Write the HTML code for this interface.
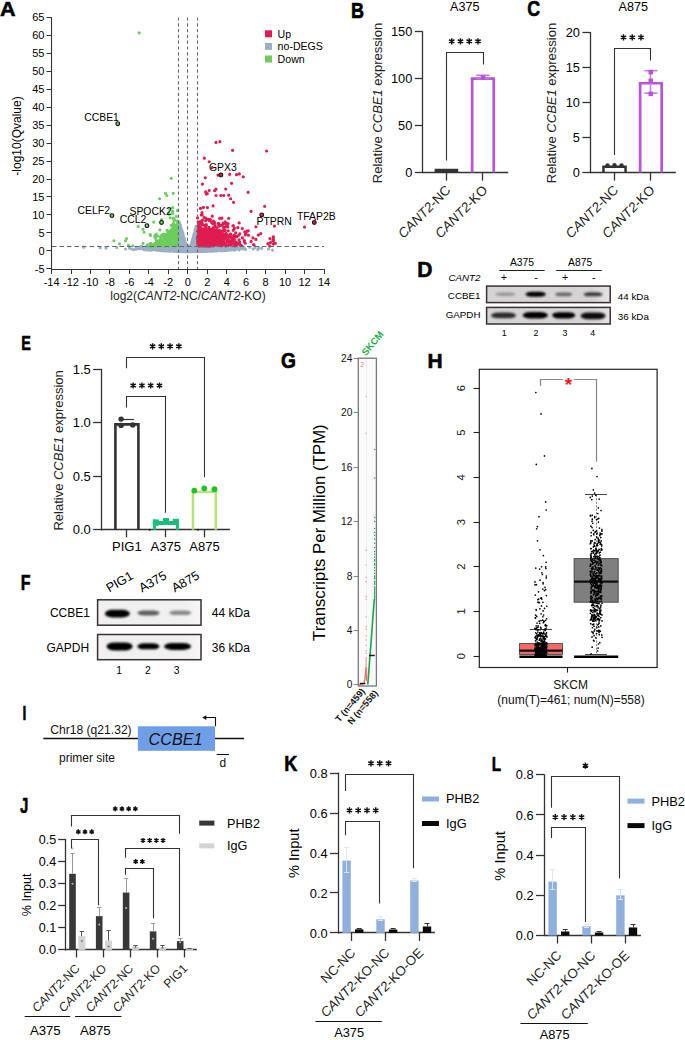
<!DOCTYPE html>
<html><head><meta charset="utf-8"><style>
html,body{margin:0;padding:0;background:#fff;}
svg{display:block;}
text{font-family:"Liberation Sans", sans-serif;}
</style></head><body>
<svg width="685" height="1040" viewBox="0 0 685 1040">
<rect width="685" height="1040" fill="#fff"/>
<line x1="51.5" y1="17.4" x2="51.5" y2="269.2" stroke="#333" stroke-width="1.1"/>
<line x1="51" y1="269.5" x2="324.4" y2="269.5" stroke="#333" stroke-width="1.1"/>
<line x1="46.5" y1="268.5" x2="51.5" y2="268.5" stroke="#333" stroke-width="1"/>
<text x="44.5" y="272.65" font-size="11" text-anchor="end">-5</text>
<line x1="46.5" y1="250.5" x2="51.5" y2="250.5" stroke="#333" stroke-width="1"/>
<text x="44.5" y="254.7" font-size="11" text-anchor="end">0</text>
<line x1="46.5" y1="232.5" x2="51.5" y2="232.5" stroke="#333" stroke-width="1"/>
<text x="44.5" y="236.75" font-size="11" text-anchor="end">5</text>
<line x1="46.5" y1="214.5" x2="51.5" y2="214.5" stroke="#333" stroke-width="1"/>
<text x="44.5" y="218.8" font-size="11" text-anchor="end">10</text>
<line x1="46.5" y1="196.5" x2="51.5" y2="196.5" stroke="#333" stroke-width="1"/>
<text x="44.5" y="200.85" font-size="11" text-anchor="end">15</text>
<line x1="46.5" y1="179.5" x2="51.5" y2="179.5" stroke="#333" stroke-width="1"/>
<text x="44.5" y="182.9" font-size="11" text-anchor="end">20</text>
<line x1="46.5" y1="161.5" x2="51.5" y2="161.5" stroke="#333" stroke-width="1"/>
<text x="44.5" y="164.95" font-size="11" text-anchor="end">25</text>
<line x1="46.5" y1="143.5" x2="51.5" y2="143.5" stroke="#333" stroke-width="1"/>
<text x="44.5" y="147" font-size="11" text-anchor="end">30</text>
<line x1="46.5" y1="125.5" x2="51.5" y2="125.5" stroke="#333" stroke-width="1"/>
<text x="44.5" y="129.05" font-size="11" text-anchor="end">35</text>
<line x1="46.5" y1="107.5" x2="51.5" y2="107.5" stroke="#333" stroke-width="1"/>
<text x="44.5" y="111.1" font-size="11" text-anchor="end">40</text>
<line x1="46.5" y1="89.5" x2="51.5" y2="89.5" stroke="#333" stroke-width="1"/>
<text x="44.5" y="93.15" font-size="11" text-anchor="end">45</text>
<line x1="46.5" y1="71.5" x2="51.5" y2="71.5" stroke="#333" stroke-width="1"/>
<text x="44.5" y="75.2" font-size="11" text-anchor="end">50</text>
<line x1="46.5" y1="53.5" x2="51.5" y2="53.5" stroke="#333" stroke-width="1"/>
<text x="44.5" y="57.25" font-size="11" text-anchor="end">55</text>
<line x1="46.5" y1="35.5" x2="51.5" y2="35.5" stroke="#333" stroke-width="1"/>
<text x="44.5" y="39.3" font-size="11" text-anchor="end">60</text>
<line x1="46.5" y1="17.5" x2="51.5" y2="17.5" stroke="#333" stroke-width="1"/>
<text x="44.5" y="21.35" font-size="11" text-anchor="end">65</text>
<line x1="51.5" y1="269.2" x2="51.5" y2="274" stroke="#333" stroke-width="1"/>
<text x="51.58" y="286" font-size="11" text-anchor="middle">-14</text>
<line x1="71.5" y1="269.2" x2="71.5" y2="274" stroke="#333" stroke-width="1"/>
<text x="71.04" y="286" font-size="11" text-anchor="middle">-12</text>
<line x1="90.5" y1="269.2" x2="90.5" y2="274" stroke="#333" stroke-width="1"/>
<text x="90.5" y="286" font-size="11" text-anchor="middle">-10</text>
<line x1="109.5" y1="269.2" x2="109.5" y2="274" stroke="#333" stroke-width="1"/>
<text x="109.96" y="286" font-size="11" text-anchor="middle">-8</text>
<line x1="129.5" y1="269.2" x2="129.5" y2="274" stroke="#333" stroke-width="1"/>
<text x="129.42" y="286" font-size="11" text-anchor="middle">-6</text>
<line x1="148.5" y1="269.2" x2="148.5" y2="274" stroke="#333" stroke-width="1"/>
<text x="148.88" y="286" font-size="11" text-anchor="middle">-4</text>
<line x1="168.5" y1="269.2" x2="168.5" y2="274" stroke="#333" stroke-width="1"/>
<text x="168.34" y="286" font-size="11" text-anchor="middle">-2</text>
<line x1="187.5" y1="269.2" x2="187.5" y2="274" stroke="#333" stroke-width="1"/>
<text x="187.8" y="286" font-size="11" text-anchor="middle">0</text>
<line x1="207.5" y1="269.2" x2="207.5" y2="274" stroke="#333" stroke-width="1"/>
<text x="207.26" y="286" font-size="11" text-anchor="middle">2</text>
<line x1="226.5" y1="269.2" x2="226.5" y2="274" stroke="#333" stroke-width="1"/>
<text x="226.72" y="286" font-size="11" text-anchor="middle">4</text>
<line x1="246.5" y1="269.2" x2="246.5" y2="274" stroke="#333" stroke-width="1"/>
<text x="246.18" y="286" font-size="11" text-anchor="middle">6</text>
<line x1="265.5" y1="269.2" x2="265.5" y2="274" stroke="#333" stroke-width="1"/>
<text x="265.64" y="286" font-size="11" text-anchor="middle">8</text>
<line x1="285.5" y1="269.2" x2="285.5" y2="274" stroke="#333" stroke-width="1"/>
<text x="285.1" y="286" font-size="11" text-anchor="middle">10</text>
<line x1="304.5" y1="269.2" x2="304.5" y2="274" stroke="#333" stroke-width="1"/>
<text x="304.56" y="286" font-size="11" text-anchor="middle">12</text>
<line x1="324.5" y1="269.2" x2="324.5" y2="274" stroke="#333" stroke-width="1"/>
<text x="324.02" y="286" font-size="11" text-anchor="middle">14</text>
<text x="20.8" y="136" font-size="12" text-anchor="middle" transform="rotate(-90 20.8 136)">-log10(Qvalue)</text>
<text x="188" y="300" font-size="12" text-anchor="middle" fill="#222">log2(<tspan font-style="italic">CANT2</tspan>-NC/<tspan font-style="italic">CANT2</tspan>-KO)</text>
<polygon points="177.58,250.8 177.58,223.52 179.53,222.08 179.92,223.38 180.31,224.68 180.7,225.99 181.09,227.31 181.48,228.63 181.86,229.97 182.25,231.31 182.64,232.66 183.03,234.03 183.42,235.41 183.81,236.8 184.2,238.21 184.59,239.64 184.98,241.08 185.37,242.55 185.76,244.05 186.15,245.59 186.54,247.18 186.92,248.86 187.31,250.8 187.31,250.8" fill="#9bb0c8"/>
<polygon points="188.97,250.8 188.97,250.8 189.36,249.91 189.75,248.82 190.14,247.64 190.52,246.41 190.91,245.12 191.3,243.8 191.69,242.44 192.08,241.05 192.47,239.64 192.86,238.2 193.25,236.74 193.64,235.26 194.03,233.76 194.42,232.25 194.81,230.71 195.19,229.17 195.58,227.6 195.97,226.03 196.07,226.03 198.02,226.03 198.02,250.8" fill="#9bb0c8"/>
<path d="M186.46 248.05h0M202.14 251.13h0M172.69 250.96h0M187.33 248.85h0M212.88 250.82h0M196.78 251.14h0M157.65 250.08h0M209.17 250.15h0M157.13 248.03h0M156.06 248.8h0M197.93 246.91h0M190.75 250.08h0M198 249.92h0M199.75 247.13h0M203.07 248.07h0M216.15 249.22h0M184.66 251.27h0M189.52 250.54h0M182.55 249.85h0M172.14 248.25h0M175.18 247.2h0M196.69 247.79h0M192.68 248.77h0M218.38 246.74h0M189.52 246.24h0M174.99 250.72h0M161.76 250.11h0M208.61 248.79h0M221.13 247.24h0M199.09 248.46h0M204.27 247.76h0M179.19 248.29h0M171.92 246.95h0M180.84 246.43h0M161.91 250.54h0M196.58 247.78h0M152.87 246.89h0M140.24 248.7h0M168.81 251h0M211.66 248.87h0M196.71 251.31h0M200.57 247.39h0M202.29 249.41h0M202.88 246.82h0M211.21 248.43h0M202.51 246.76h0M208.9 249.87h0M154.68 248.68h0M164.9 246.34h0M224.59 250h0M198.33 250.33h0M204.97 248.87h0M178.17 251.41h0M183.22 249.29h0M173.7 246.37h0M211.03 247.71h0M163.49 247.68h0M188.94 251.37h0M220.4 246.73h0M170.71 247.15h0M175.61 250.81h0M204.6 248.08h0M198.75 250.46h0M194.6 250.77h0M188.09 251.66h0M197.36 250.79h0M207.3 251.23h0M203.25 246.81h0M182.95 250.19h0M184.08 249.69h0M184.81 246.96h0M199.58 246.17h0M168.73 250.68h0M196.68 251.08h0M182.88 247.06h0M205.08 250.58h0M241.35 247.87h0M198.95 250.79h0M187.08 248.73h0M190.41 246.25h0M212.3 249.87h0M167.81 249.26h0M209.19 248.55h0M222.16 247.16h0M184.73 247.16h0M204.43 246.21h0M213.94 247.04h0M162.11 247.36h0M195.29 249.7h0M216.1 250.91h0M207.98 249.99h0M194.58 247.84h0M213.12 246.45h0M185.69 246.2h0M210.38 250.13h0M186.26 250.38h0M196.23 248.21h0M204.74 246.66h0M204.26 247.98h0M172.01 247.15h0M217.57 246.57h0M206.95 247.27h0M191.71 250.7h0M168.39 247.18h0M173.5 246.28h0M223.57 248.91h0M151.4 247.29h0M220.43 250.07h0M199.86 246.65h0M200.07 247.18h0M214.91 246.23h0M222.08 247.73h0M176.49 250.69h0M212.5 251.12h0M220.79 248.37h0M186.31 246.5h0M153.81 246.88h0M208.42 250.23h0M191.5 250.36h0M208.71 248.28h0M190.44 250.96h0M212.95 246.59h0M177.96 248.34h0M209.67 246.63h0M151.59 248.23h0M213.53 248.48h0M187.76 249.23h0M191.11 250.68h0M228.29 249.76h0M192.6 249.06h0M187.65 249.85h0M165.95 248.48h0M158.05 250.17h0M179.48 248.48h0M191.85 247.4h0M208.15 248.7h0M159.74 246.54h0M178.64 249.09h0M173.25 248.64h0M175.94 247.74h0M167.59 248.71h0M199.13 246.45h0M178.58 246.44h0M152.01 249.26h0M146.13 246.76h0M173.81 250.59h0M207.63 250.98h0M206.97 250.12h0M218.94 247.17h0M205.17 246.68h0M210.01 247.88h0M218.45 250.27h0M231.34 249.43h0M155.77 246.34h0M172.74 246.18h0M205.78 247.02h0M203.16 248.73h0M210.13 249.53h0M197.67 247.66h0M208.56 251.23h0M170.93 251.1h0M184.36 249.78h0M174.26 250.98h0M174.5 246.21h0M204.72 250.89h0M138.71 248.7h0M226.1 249.4h0M200.43 250.86h0M151.97 246.9h0M212.8 249.87h0M218.78 248.2h0M228.66 247.44h0M197.64 247.84h0M195.44 249.31h0M235.02 247.61h0M212.89 247.13h0M226.49 250.3h0M211.9 246.83h0M173.87 248.44h0M197.02 246.54h0M190.49 248.76h0M202.37 250.23h0M201.06 251.27h0M199.39 250.48h0M185.07 247.45h0M207.82 249.84h0M178.9 249.61h0M191.68 251.6h0M191.68 247.62h0M195.29 248.61h0M200.3 246.49h0M213.22 250.63h0M200.81 248.87h0M171.96 246.98h0M172.68 247.73h0M206.81 246.23h0M170.45 247.61h0M223.94 247.8h0M176.09 251.08h0M202.34 250.81h0M222.01 249.61h0M206.13 250.54h0M225.5 246.72h0M211.54 247.81h0M188.66 250.05h0M206.6 248.97h0M203.88 250.06h0M210.25 246.33h0M217.03 249.82h0M187.29 246.32h0M184.68 251.59h0M209.55 249.32h0M167.84 250.08h0M195.52 248.87h0M207.69 250.89h0M192.19 249.47h0M195.9 249.97h0M192.82 250.4h0M170.15 247.39h0M178.85 247.95h0M182.79 249.44h0M150.65 248.93h0M203.27 247.61h0M190.58 248.12h0M229.04 246.6h0M202.23 248.14h0M187.91 250.89h0M154.51 248.21h0M152.92 246.97h0M190.63 247.1h0M154.39 247.51h0M169.93 247.67h0M192.34 250.95h0M196.79 249.65h0M222.4 248.19h0M215.48 247.97h0M170.03 248.7h0M169.69 251.13h0M201.71 248.81h0M159.27 248.26h0M187.62 247.59h0M185.33 250.23h0M206.02 247.56h0M198.93 250.47h0M188.13 248.93h0M136.08 248.2h0M160.96 247.22h0M195.77 248.25h0M186.57 250.82h0M185.28 250.22h0M190.95 248.54h0M174.3 251.24h0M206.7 247.86h0M197.71 247.82h0M184.07 248.77h0M176.56 248.94h0M181.66 246.71h0M193.85 250.58h0M239.18 249.88h0M185.12 249.09h0M214.5 248.88h0M143.14 248.88h0M204 250.34h0M239.43 247.72h0M207.35 246.38h0M211.05 250.56h0M202.1 246.74h0M169.66 247.62h0M196.78 248.96h0M235.03 250.07h0M215.46 248.85h0M192.23 250.02h0M203.59 249.79h0M206.2 246.97h0M225.75 246.86h0M192.06 251.03h0M220.59 246.6h0M177.29 249.88h0M177.51 246.14h0M206.38 248.3h0M177.85 249.97h0M208.27 251.08h0M222.81 249.44h0M214.81 246.45h0M191.76 248.85h0M207.75 250.36h0M155.93 246.64h0M228.2 246.96h0M160.94 246.41h0M158.57 248.18h0M190.46 247.62h0M185.3 249.14h0M192.18 250.1h0M162.31 250.61h0M201.25 248.99h0M186.96 249.75h0M181.79 246.26h0M223.69 249.53h0M182.07 248.53h0M177.33 249.33h0M197.72 250.48h0M202.23 246.64h0M177.29 246.63h0M191.96 246.15h0M181.04 250.48h0M195.16 251.16h0M186.81 250.32h0M199.17 250.18h0M153.02 247.2h0M173.61 249.16h0M170.35 249.27h0M204.52 249.65h0M206.93 246.3h0M197.95 250.92h0M162.9 246.78h0M191.08 250.49h0M189.66 249.46h0M207 249.04h0M229.75 246.68h0M180.36 251.38h0M223.16 246.61h0M198.16 249.02h0M191.36 249.52h0M191.49 246.54h0M210.07 246.28h0M155.95 249.46h0M200.85 248.72h0M199.18 247.87h0M222.19 247.78h0M179.95 247.39h0M166.74 250.84h0M198.55 247.32h0M196.71 248.08h0M237.33 248.86h0M202.49 248.09h0M202.9 247.75h0M197.64 248.74h0M196.75 248.43h0M180.6 248.27h0M201.09 251.49h0M184.47 246.36h0M213.22 247.92h0M208.98 250.1h0M176.21 250.08h0M222.63 249.35h0M183.88 251.46h0M161.08 248.83h0M192.02 250.27h0M168.6 249.98h0M151.3 250.18h0M180.48 247.84h0M209.85 250.26h0M201.45 248.81h0M159.65 249.78h0M209.04 247.06h0M188.37 250.39h0M197.86 250h0M225.68 246.35h0M178.54 250.26h0M192.04 249.38h0M166.42 250.3h0M148.77 248.6h0M204.44 250.7h0M245.44 249.41h0M210.68 246.65h0M199.23 246.77h0M184.02 246.51h0M185.44 246.48h0M203.19 247.49h0M221.28 249.06h0M197.7 249.57h0M185.58 251.6h0M202.53 250h0M161.35 250.22h0M232.66 246.28h0M196.77 247.11h0M210.2 247.05h0M185.77 249.02h0M194.37 249.61h0M203.4 249.53h0M185.21 246.7h0M212.33 247.09h0M195.67 247.42h0M196.96 251.29h0M193.07 246.58h0M190.2 246.7h0M225.55 249.11h0M184.51 248.22h0M242.58 248.8h0M187.98 250.14h0M174.26 251.29h0M193.31 248.17h0M146.19 246.36h0M206.43 248.89h0M193.96 246.37h0M211.05 249.96h0M185.92 249.26h0M144.85 249.28h0M193.61 247.23h0M188.95 247.39h0M153.78 247.83h0M183.27 249.6h0M207.52 247.27h0M203.6 247.45h0M198.14 250.26h0M196.62 248.6h0M193.81 249.87h0M233.73 246.18h0M186.45 250.18h0M199.64 248.86h0M196.33 247.73h0M177.59 249.21h0M196.57 248.22h0M176.12 246.93h0M161.55 247.7h0M220.05 249.49h0M218.72 248.22h0M168.35 250.11h0M215.64 249.85h0M192.04 246.78h0M203.48 248.39h0M182.22 246.17h0M209.9 248.67h0M196.03 248.05h0M228.59 246.17h0M210.25 247.06h0M205.59 246.98h0M196.73 250.02h0M188.69 251.01h0M212.04 248.25h0M242.69 246.39h0M163.22 248.75h0M221.17 249.62h0M200.26 250.99h0M143.12 247.65h0M181.25 249.53h0M181.9 250.77h0M196.16 248.34h0M206.72 247.96h0M192.58 249.87h0M194.65 247.91h0M198.7 250.49h0M207.92 247.2h0M184.64 251.04h0M189.5 249.49h0M163.95 250.48h0M182.65 250.66h0M184.63 250.05h0M171.93 249.66h0M208.62 248.38h0M186.57 249.67h0M156.36 246.15h0M212.16 249.36h0M202.43 250.41h0M222.87 250.74h0M209.18 247.06h0M179.26 249.3h0M208.52 250.48h0M176.44 251.3h0M163.98 246.56h0M182.39 251.06h0M177.54 248.75h0M178.03 250.65h0M186.54 246.54h0M215.95 250.52h0M154.82 246.28h0M193.89 250.59h0M225.92 246.24h0M226.64 248.44h0M235.74 248.58h0M207.04 246.64h0M163.96 250.15h0M165.54 247.17h0M195.32 246.98h0M212.18 247h0M197.55 249.43h0M204.77 248.69h0M183.9 250.24h0M198.69 247.64h0M196.42 248.54h0M188.13 247.47h0M229.58 249.94h0M200.95 248.3h0M164.4 249.46h0M182.81 249.28h0M173.01 247.88h0M181.01 249.11h0M187.58 248.24h0M193.37 248.97h0M194.9 247.35h0M226.24 248.56h0M201.6 250.95h0M212.6 250.54h0M183.57 249.17h0M195.48 248.84h0M219.81 250.51h0M199.06 247.59h0M195.92 251.35h0M167.6 248.58h0M155.59 249.94h0M226.52 246.77h0M224.85 246.97h0M190.88 250.62h0M215.31 246.35h0M188.97 246.6h0M210 246.49h0M222.7 250.47h0M171.36 250.4h0M219.35 246.63h0M185.82 250.83h0M228.8 248.3h0M203.93 250.07h0M184.96 248.84h0M189.34 250.67h0M196.77 250.75h0M220.1 246.63h0M179.7 250.57h0M193.89 248.74h0M181.83 248.1h0M165.28 248.28h0M223.71 248.06h0M198.8 246.17h0M185.23 248.16h0M162.93 249.62h0M214.21 246.18h0M174.62 247.35h0M182.67 249.16h0M206.66 251.13h0M221.9 246.98h0M191.02 246.22h0M220.86 248.09h0M182.56 251.54h0M176.54 251.2h0M208.4 249.08h0M214.5 248.56h0M200.31 250.33h0M185.06 248.03h0M193.16 249.72h0M191.9 251.11h0M182.61 248.39h0M203.08 248.34h0M199.81 248.99h0M219.09 250.28h0M205.76 250.63h0M185.77 251.09h0M164.96 247.18h0M160.11 248.89h0M191.41 248.11h0M194.79 248.56h0M174.34 249.01h0M215.47 246.44h0M190.1 246.67h0M176.33 251.14h0M171.25 250h0M187.59 251.33h0M192.27 248.63h0M188.52 246.46h0M200.23 248.26h0M202.32 248.79h0M168.11 250.22h0M162.61 249.4h0M189.69 246.75h0M197.82 247.32h0M191.19 247h0M189.44 247.55h0M158.87 248.63h0M198.97 250.36h0M203.42 251.27h0M200.82 249.73h0M191.62 246.99h0M160.2 247.46h0M189.09 249.26h0M217.52 247.16h0M175.82 248h0M189.36 246.33h0M200.36 251.48h0M232.87 249.2h0M194.63 246.44h0M225.29 247.28h0M172.14 249.56h0M228.97 249.44h0M215.8 247.65h0M175.87 247.88h0M214.5 246.93h0M188.67 247.81h0M205.39 247.59h0M174.6 248.36h0M186.69 248.21h0M204.88 251.03h0M201.36 251.39h0M185.62 251.03h0M208.64 250.59h0M183.58 251.42h0M222.01 247.84h0M199.81 247.78h0M191.07 248.41h0M184.18 249.61h0M207.27 246.7h0M157.23 250.32h0M222.24 246.39h0M158.24 250.18h0M194.43 251.48h0M201.27 246.96h0M202.7 247.07h0M164.89 247.91h0M189.51 251.14h0M200.81 247.45h0M196.69 249.3h0M208.9 251.21h0M190.99 247.71h0M208.33 249.42h0M169.01 248.61h0M239.25 246.7h0M187.92 249.38h0M188.22 249.25h0M194.41 247.77h0M173.03 248.51h0M200.17 251.07h0M231.48 246.89h0M192.19 250.57h0M192.61 247.46h0M193.58 248.96h0M191.43 248.96h0M195.47 248.93h0M179.2 249.61h0M199.5 246.44h0M177.87 249.92h0M198.66 248.88h0M222.6 250.27h0M186.2 247.3h0M185.34 247.79h0M198.3 249.66h0M163.73 248.99h0M157.81 250.25h0M218.11 246.67h0M205.4 250.03h0M193.88 246.68h0M171.74 246.72h0M191.54 250.4h0M167.28 247.34h0M197.81 247.49h0M180.22 249.74h0M176.65 250.57h0M208.31 247.48h0M166.6 250.2h0M159.05 248.05h0M204.9 250.77h0M150.39 249.29h0M201.74 250.49h0M181.56 246.98h0M221.89 250.09h0M200.28 249.79h0M204.49 248.67h0M201.37 250.51h0M207.13 246.26h0M190.43 246.34h0M182.31 250.99h0M147.86 246.96h0M230.71 247.27h0M179.3 248.06h0M197.06 251.04h0M197.17 251.44h0M211.2 249.2h0M199.7 248.85h0M161.31 247.85h0M180.69 248.26h0M194.28 249.43h0M189.15 249.29h0M147.13 247.83h0M191.57 250.43h0M170.33 247.53h0M217.39 247.59h0M167.58 246.86h0M179.16 249.04h0M165.24 249.46h0M185.27 249.31h0M185 247.32h0M185.08 250.24h0M163.66 248.88h0M164.33 248.97h0M199.61 247.9h0M203.46 247.98h0M186.17 247.35h0M173.55 246.26h0M206.95 251.18h0M180.04 247.3h0M188.44 246.46h0M182.33 248.44h0M190.56 248.68h0M186.7 248.12h0M167.72 246.98h0M170.88 246.4h0M188.84 250.51h0M183.51 247.42h0M173 250.64h0M210.75 250.96h0M189.83 250.16h0M188.99 249.35h0M193.66 249.35h0M185.61 250.16h0M173.65 250.13h0M189.1 248.75h0M143.3 249.07h0M198.17 250.45h0M172.37 250.58h0M197.88 248.14h0M155 248.46h0M178.16 246.32h0M186.13 249.69h0M167.4 247.04h0M162.78 248.65h0M184.61 250.91h0M216.46 246.95h0M167.32 249.74h0M223.22 249.01h0M191.21 250.66h0M213.22 251.15h0M188.76 250.31h0M175.35 249.77h0M170.26 247.96h0M194.46 248.02h0M161.21 246.81h0M227.42 250.3h0M212.57 247.22h0M152.49 249.79h0M205.84 251.33h0M166.45 250.96h0M220.18 249.7h0M182.78 251h0M201 247.34h0M203.34 249.63h0M217.09 247.15h0M227.92 249.79h0M213.38 247.23h0M174.01 247.85h0M219.98 246.9h0M169.44 250.15h0M182.85 247.53h0M168.16 248.91h0M210.95 249.89h0M174.21 250.09h0M206.95 251.07h0M209.98 248.88h0M206.32 248.78h0M210.41 248.5h0M193.22 247.02h0M189.91 249.09h0M163.77 246.89h0M180.11 249.48h0M146.34 249.77h0M217.07 247.9h0M188.47 248.29h0M187.98 247.89h0M208.32 246.23h0M184.05 248.8h0M148.28 250.03h0M195.89 247.69h0M178.58 246.87h0M178.53 249.5h0M167.06 247.26h0M195.67 250.49h0M172.03 248.41h0M200.17 247.07h0M181.49 249.35h0M228.63 248.3h0M188.39 246.27h0M215.75 247.84h0M196.46 249.89h0M174.01 249.75h0M166.86 247.19h0M176.7 251.18h0M184.42 248.61h0M149.77 250.04h0M190.98 250.64h0M193.86 246.57h0M168.47 247.18h0M172.8 246.6h0M170.09 248.01h0M173.42 247.7h0M166.29 249.98h0M174.12 247.85h0M158.24 250.2h0M200.76 250.57h0M226.01 246.52h0M199.81 248.01h0M165.88 247.17h0M219.58 248.22h0M190.82 249.35h0M209 249.66h0M165.15 246.45h0M204.05 251.17h0M186.41 250.98h0M189.31 247.18h0M150.95 248.44h0M170.83 251.12h0M170.93 246.45h0M209.51 246.23h0M170.87 250.67h0M194.93 248.1h0M194.44 251.59h0M203.09 251.47h0M187.48 246.32h0M182.17 251.06h0M199.02 251.49h0M183.84 247.66h0M193.31 250.65h0M224.89 250.45h0M196.55 246.93h0M159.75 247.38h0M216.51 247.56h0M206.22 248.97h0M205.94 246.32h0M185.24 247.68h0M195.2 248.06h0M191.94 247.15h0M207.17 247.55h0M200.16 250.66h0M206.84 251.07h0M173.61 249.39h0M172.12 247.78h0M181.73 250.75h0M197.38 248.08h0M173.13 248.03h0M174.14 247.24h0M201.64 246.43h0M197.4 250.02h0M165.88 250.7h0M223.12 246.93h0M186.5 249.81h0M147.41 246.81h0M156.97 247.92h0M183.91 246.74h0M211.86 249.3h0M180.65 246.69h0M166.26 247.07h0M191.45 250.23h0M192.85 249.34h0M159.53 246.65h0M172.22 251.02h0M210.34 246.81h0M159.34 248.09h0M185.74 247.19h0M231.13 247.47h0M207.85 250.91h0M181.96 248.54h0M195.7 247.51h0M178.63 246.5h0M194.49 247.92h0M219.47 248.69h0M195.91 247.51h0M206.78 247.23h0M183.22 247.18h0M193.88 247.4h0M194.58 246.7h0M218.44 246.69h0M168.66 248.18h0M188.51 250.62h0M196.27 247.78h0M203.75 249.54h0M172.63 248.6h0M183.52 250.76h0M258.9 247.93h0M211.03 250.7h0M167.54 250.29h0M165.06 248.08h0M177.8 251.31h0M212.16 251.03h0M232.59 248.27h0M189.22 248.53h0M189.11 249.31h0M227.11 246.37h0M195.78 246.33h0M154.14 249.37h0M204.99 250.48h0M194.92 251.2h0M216.45 246.77h0M199.91 249.08h0M234.08 249.96h0M177.09 248.25h0M183.44 246.35h0M197.9 250.2h0M164.83 246.34h0M180.17 247.9h0M174.24 250.48h0M205.56 246.31h0M206.14 251.2h0M190.94 250.27h0M165.31 246.59h0M227.05 246.86h0M226.04 247.44h0M202.15 248.04h0M198.59 250.81h0M191.06 247.5h0M220.21 249.46h0M180.27 248.32h0M192.17 249.89h0M182.06 250.15h0M208.34 250.46h0M208.16 250.1h0M210.82 251.19h0M215.77 247.53h0M193.56 246.53h0M196.9 250.42h0M229.24 246.62h0M175.16 250.61h0M182.96 246.52h0M194.7 247.01h0M176.18 249.59h0M175.5 247.06h0M163.24 250.21h0M195.73 250.43h0M221.98 248.22h0M202.97 250.72h0M202.76 249.29h0M180.02 250.65h0M186.52 249.79h0M230.44 249.69h0M173.84 246.63h0M192.7 251.06h0M198.62 246.71h0M190.76 247.98h0M197.32 250.05h0M214.28 249.84h0M197.51 246.18h0M210.25 246.14h0M199.94 250h0M187.49 246.71h0M222.47 249.42h0M203.32 246.25h0M228.57 249.01h0M195.42 250.88h0M230.3 248.16h0M192.16 250.66h0M150.32 249.37h0M209.52 248.35h0M200.02 247.38h0M201.51 247.69h0M194.42 251.19h0M199.54 248.27h0M175.35 250.27h0M192.16 248.29h0M181.9 248.39h0M155.67 249.65h0M222.1 248.9h0M205.01 247.61h0M226.74 249.09h0M204.4 246.97h0M207.39 251.28h0M173.78 246.6h0M150.71 249.19h0M197.76 250.6h0M201.28 250.65h0M174.66 249.4h0M190.06 248.8h0M190.59 249.21h0M181.37 247.67h0M190.68 247.15h0M203.62 247.68h0M178.24 249.41h0M191.75 246.84h0M184.43 246.38h0M167.18 248.44h0M192.49 248.71h0M244.71 248.85h0M198.62 250.6h0M204.09 247.11h0M201.02 251.38h0M217.71 250.04h0M209.73 251.2h0M169.96 248.53h0M176.03 247.69h0M224.61 247.42h0M216.53 250.81h0M208.75 248.72h0M208.34 249.88h0M206.7 250.67h0M206.15 248.28h0M199.1 248.46h0M182.86 247.51h0M211.28 246.45h0M224.5 248.92h0M157.37 248.26h0M210.42 249.23h0M224.7 249.14h0M178.93 250.17h0M180.56 246.23h0M210.5 247.14h0M223.73 246.83h0M172.13 250.96h0M140.58 246.37h0M186.09 250.26h0M166.17 249.23h0M205.28 248.62h0M211.43 248.66h0M200.87 251.44h0M226.29 247.13h0M233.2 246.39h0M166.78 246.7h0M164.07 246.69h0M220.28 249.62h0M197.96 247.9h0M187.94 246.55h0M216.96 247.98h0M191.6 249.28h0M216.46 246.37h0M187.62 248.08h0M208.65 250.7h0M149.31 248.12h0M163.17 249.61h0M167.01 250.31h0M196.98 250.95h0M203.25 249.31h0M204.21 249.92h0M192.06 248.66h0M200.45 247h0M171.23 247.91h0M174.77 250.28h0M186.09 248.62h0M169.68 248.07h0M174.41 250.06h0M195.11 250.44h0M171.67 248.24h0M190.12 251.62h0M167.25 249.88h0M224.18 248.16h0M174.99 246.2h0M192.59 250.05h0M193.36 251.32h0M179.8 246.82h0M184.89 249.48h0M194.38 249.24h0M190.79 250.44h0M181.9 246.35h0M190.85 249.82h0M179.88 249.6h0M178.91 246.93h0M166.47 247.01h0M158.42 247.3h0M187.96 247.46h0M156.3 247.43h0M197.24 246.6h0M220.5 250.85h0M221.34 247.23h0M171.11 246.32h0M179.37 248.42h0M160.59 246.72h0M209.33 248.16h0M175.39 248.96h0M207.08 247.58h0M186.27 248.58h0M211.3 249.27h0M175.98 246.92h0M224.02 248.43h0M179.45 249.85h0M196.18 250.85h0M167.69 250.63h0M179.38 246.56h0M174.08 246.97h0M226.88 246.32h0M197.79 246.62h0M212.36 251.14h0M216.89 248.59h0M199.43 246.57h0M195.43 246.14h0M166.56 248.49h0M160.81 248.97h0M188.33 249.69h0M175.96 246.41h0M181.04 247.87h0M182.48 249.52h0M190.22 249.46h0M166.95 246.72h0M181.66 246.32h0M169.76 248.02h0M193.53 246.15h0M177.8 247.11h0M212.61 250.32h0M168.21 247h0M243.19 247.88h0M224.99 247.54h0M219.42 246.99h0M234.38 248.49h0M189.07 250.81h0M185.62 248.85h0M215.39 250.15h0M203.57 248.25h0M217.95 249.27h0M220.74 250.66h0M190.55 249.4h0M195.79 247.84h0M174.69 251.3h0M178.52 248.33h0M228.68 247.58h0M199.58 248.57h0M214.34 249.79h0M176.5 246.15h0M171.64 248.3h0M182.87 250.71h0M197.2 247.45h0M199.05 250.66h0M197.52 248.75h0M204.18 247.16h0M166.46 250.72h0M226.65 249.15h0M194.44 247.71h0M184.13 250.13h0M201.58 250.99h0M213.91 249.39h0M176.36 249.02h0M186.53 246.74h0M196.2 248.43h0M212.98 248.05h0M186.17 250.26h0M237.13 246.7h0M204.58 249.78h0M221.95 249.39h0M169.38 248.12h0M214.85 246.38h0M185.75 250.29h0M166.65 249.94h0M212.46 249.63h0M208.35 247.21h0M175.09 250.07h0M200.6 250.54h0M208.76 246.28h0M185.05 250.98h0M217.08 248.41h0M176.07 251.02h0M205.36 250.77h0M200.41 250.23h0M174.8 250.33h0M188.54 251.47h0M206.39 247.9h0M185.23 247.74h0M201.68 251.03h0M186.91 250.94h0M230.19 248.52h0M210.76 250.44h0M160.05 249.12h0M188.27 246.36h0M172.11 250.17h0M214.78 249.97h0M184.34 249.12h0M213.45 249.84h0M215.14 246.63h0M175.01 250.05h0M181.46 248.24h0M201.36 250.87h0M232.01 248.18h0M176.04 247.33h0M187.4 249.53h0M177.17 249.76h0M169.57 249.19h0M202.63 246.93h0M198.26 249.85h0M186.58 248.54h0M183.32 249.6h0M174.54 250.98h0M191.65 249.97h0M193.26 247.71h0M202.19 250h0M154.96 247.12h0M217.21 246.7h0M198.69 250.09h0M183.37 251.41h0M178.79 249.58h0M164.43 248.95h0M174.56 250.03h0M165.05 246.87h0M174.48 250.37h0M214.74 250.53h0M220.07 247.5h0M174.35 251.1h0M203.46 250.42h0M194.71 249.99h0M187.46 249.94h0M195.63 248.13h0M208.41 248.37h0M227.02 247.39h0M191.05 247.89h0M213.51 249.4h0M230.43 247.09h0M191.93 250.1h0M230.33 247.81h0M202.38 251.26h0M192.04 247.29h0M201.61 250.4h0M220.9 250.45h0M174.29 247.71h0M165.08 246.96h0M212.7 249.76h0M233.43 248.51h0M218.16 246.47h0M179.69 247.04h0M160.45 247.85h0M185.16 247.79h0M193.69 249.31h0M144.93 249.49h0M188.2 247.45h0M222.33 247.04h0M200.32 250.14h0M140.01 247.43h0M176.18 248.52h0M191.71 249.71h0M198.84 249.35h0M196.99 250.88h0M208.5 247.66h0M184.46 250.27h0M178.48 248.71h0M146.63 248.69h0M207.9 249.79h0M200.16 248.51h0M184.2 249.77h0M201.98 247.42h0M168.08 250.25h0M177.87 248.98h0M167.79 247.29h0M196.61 250.05h0M182.9 249.6h0M193.64 250.12h0M198.63 250.52h0M185.02 250.99h0M170.44 249.54h0M172.66 250.39h0M195.49 251.26h0M255.15 246.85h0M196.01 251.19h0M179.96 248.47h0M135.67 249.09h0M169.94 250.2h0M193.22 248.67h0M237.5 247.52h0M194.08 248.2h0M218.98 249.73h0M179.93 250.17h0M194.81 247.38h0M195.4 247.02h0M187.93 248.13h0M204.24 246.95h0M202.81 247.29h0M186.18 247.07h0M190.82 250.67h0M173.54 247.03h0M183.33 248.57h0M209.41 249.39h0M199.09 251.36h0M178.51 248.43h0M165.49 247.56h0M164.41 246.59h0M214.14 248.63h0M183.6 250.72h0M183.43 251.13h0M217.35 247.65h0M203.11 246.29h0M210.63 250.8h0M212.99 250.21h0M197.15 247.66h0M230.86 246.75h0M192.38 247.32h0M176.81 247.91h0M199.22 248.78h0M175.34 249.06h0M200.52 247.94h0M212.04 250.37h0M152.41 249.12h0M167.05 249.33h0M200.89 250.49h0M207.24 248.96h0M200.9 246.29h0M226.07 246.25h0M169.48 246.32h0M164.48 250.65h0M166.18 247.71h0M178.42 248.41h0M180.83 246.39h0M162.41 249.44h0M195.25 249.76h0M195.34 250.62h0M188.48 247.91h0M183.54 247.98h0M194.49 249.61h0M173.16 248.55h0M181.39 248.48h0M183.69 250.59h0M197.79 246.74h0M182.17 246.88h0M188.72 250.27h0M212.48 249.92h0M205.82 248.83h0M177.88 248.39h0M186.82 251.02h0M164.56 250.56h0M189.44 249.42h0M211.38 246.83h0M201.49 248.56h0M184.11 250.96h0M158.17 246.18h0M190.01 247.08h0M182.36 249.42h0M216.31 248.28h0M237.32 247.01h0M214.77 250.82h0M218.47 249.81h0M189.21 248.38h0M194.26 250.49h0M181.81 249.23h0M222.16 246.65h0M161.69 248.18h0M163.1 246.52h0M200.22 247.52h0M182.7 249.7h0M194.33 247.1h0M160.94 250.21h0M168.37 246.39h0M215.61 247.51h0M218.46 250.48h0M199.2 248.59h0M194.96 246.55h0M182.24 247.89h0M191.3 249.21h0M205.07 246.99h0M182.94 251.45h0M186.78 251.03h0M195.79 248.59h0M179.27 249.92h0M184 250.8h0M173.22 246.77h0M161.35 247.03h0M184.22 246.41h0M210.33 250.49h0M193.31 248.9h0M217.31 250.83h0M165.44 250.09h0M204.52 249.36h0M163.66 248.63h0M213.2 249.18h0M224.78 246.71h0M185.46 249.81h0M186.48 250.44h0M213.12 250.95h0M174.85 250.45h0M176.96 248.36h0M209.28 249.3h0M190.33 248.47h0M193.47 249.83h0M214.17 246.2h0M194.6 251.42h0M210.24 249.87h0M215.86 249.71h0M175.76 248.38h0M191.69 248.76h0M253.03 249.02h0M174.69 248.41h0M197.12 247.37h0M150.59 247.66h0M178.83 249.95h0M177.17 247.21h0M225.36 247.57h0M157.09 249.25h0M194.5 248.85h0M158.29 247.79h0M176.44 249.25h0M212.56 250.88h0M182.29 246.2h0M207.1 248.85h0M181.44 250.26h0M202.99 249.62h0M193.31 246.85h0M193.55 249.17h0M166.73 249.55h0M200.59 250.64h0M207.52 249.75h0M198.7 247.63h0M146.06 248.71h0M176.46 246.55h0M184.46 250.62h0M187.52 248.45h0M210.83 247.29h0M190.18 249.31h0M196.87 248.97h0M186.06 246.69h0M189.14 251.55h0M207.25 250.51h0M188.08 250.45h0M223.39 248.9h0M200.22 246.87h0M218.12 247.84h0M202.62 246.33h0M223.09 247.98h0M224.37 246.7h0M209.48 249.53h0M200.31 248.65h0M201.68 246.81h0M162.18 249.84h0M156.07 249.11h0M191.57 249.44h0M162.13 247.64h0M188.01 249.37h0M197.68 251.37h0M178.76 248.82h0M178.55 248.27h0M190.69 251.62h0M214.47 246.51h0M136.04 249.29h0M167.96 248.04h0M188.74 251.15h0M173.67 250.48h0M213.48 250.7h0M218.94 247.03h0M169.18 248.19h0M203.48 248.51h0M176.45 249.64h0M168.54 247.42h0M190.11 247.45h0M223.87 247.16h0M178.9 246.25h0M224.45 248.63h0M187.3 246.46h0M216.17 250.4h0M214.88 247.84h0M193.01 247.39h0M151.62 249.38h0M238.61 247.07h0M195.8 250.91h0M194.3 251.34h0M165.68 250.1h0M191.39 246.47h0M183.97 250.62h0M200.38 247.56h0M202.39 251.35h0M185.94 247.35h0M194.4 248.91h0M249.68 247.3h0M171.22 248.87h0M222.14 249.29h0M199.71 247.58h0M186.13 251.27h0M179.04 246.86h0M175.29 251.03h0M172.39 246.55h0M183.45 246.43h0M181.54 250.17h0M181.26 250.1h0M178.13 250.35h0M197.68 247.45h0M180.95 246.16h0M178.25 250.29h0M180.88 246.87h0M186.64 246.85h0M188 247.11h0M225.59 249.37h0M180.14 246.72h0M212.23 250.38h0M180.39 249.07h0M166.55 248.19h0M202.08 246.76h0M182.28 249.59h0M199.28 250.59h0M151.64 246.71h0M208.86 251.19h0M191.13 251.07h0M194.47 246.62h0M191.24 250.86h0M190.88 250.76h0M182.47 247.85h0M207.39 246.56h0M201.69 247.66h0M233.74 250.1h0M153.17 249.41h0M199.86 251.37h0M161.53 248.45h0M194.19 251.1h0M213.23 251.06h0M209.49 246.76h0M190.66 251.02h0M180.69 249.2h0M192.57 250.7h0M187.13 247.58h0M181.07 248.82h0M206.22 248.79h0M204.08 246.57h0M183.37 246.31h0M203.23 246.76h0M189.79 250.7h0M175.49 249.97h0M197.2 248.83h0M194.24 249.41h0M173.51 251.23h0M184.94 247.84h0M177.05 248.51h0M170.69 247.7h0M233.03 247.3h0M187.09 249.44h0M182.83 246.28h0M211.06 249.26h0M175.91 250.61h0M205.53 246.14h0M219.63 246.48h0M192.61 250.28h0M176.45 250.12h0M178.93 250.4h0M221 247.15h0M217.91 246.58h0M221.64 249.3h0M201.32 248.05h0M174.73 246.28h0M186.3 251.63h0M190.74 248.86h0M151.66 247.85h0M206.62 248.08h0M191.2 247.56h0M168.35 249.14h0M213.94 248.5h0M168.37 249.5h0M171.69 248.02h0M177.7 248.18h0M187.81 250.19h0M211.13 247.55h0M179.14 248.68h0M177.4 250.66h0M193.81 246.54h0M167.2 248.46h0M187.22 247.16h0M192.59 247.12h0M204.23 249.01h0M167.37 246.65h0M162.1 246.75h0M210.98 246.99h0M197.07 247.13h0M200.15 250.2h0M199.94 251.01h0M168.81 248.52h0M220.57 248.72h0M209.14 246.15h0M202.46 247.77h0M169.55 247.14h0M198.99 247.45h0M209.85 249.39h0M216.64 248.48h0M193.22 249.8h0M211.3 249.29h0M205.29 248.41h0M193.22 251.37h0M205.83 249.96h0M220.98 249.32h0M193.68 251.18h0M230.37 247.69h0M200.36 249.26h0M181.06 247.25h0M177.15 251.17h0M178.4 249.09h0M170.03 249.67h0M215.6 249.06h0M169.43 249.37h0M161.78 249.01h0M150.78 249.5h0M169.63 246.28h0M187.02 247.98h0M172.53 249.56h0M222.68 249.01h0M206.46 248.63h0M147.73 247.11h0M192.63 251.55h0M172.68 248.89h0M179.16 246.99h0M171.78 246.69h0M203.49 249.13h0M167.26 247h0M193.03 247.96h0M190.45 251.46h0M171.02 247.75h0M158.68 247.18h0M180.08 250.85h0M193.19 247.15h0M199.74 251.02h0M220.76 248.19h0M209.69 251.01h0M178.16 248.87h0M162.47 250.59h0M183.99 248.4h0M171.88 246.14h0M208.58 250.57h0M153.87 249.01h0M189.46 246.2h0M191.44 250.17h0M190.32 250.27h0M209.35 246.86h0M168.73 249.02h0M183.31 251.29h0M177.92 247.18h0M230.34 246.75h0M191.08 251.41h0M205.41 248.58h0M175.67 248.8h0M207.95 248.3h0M167.27 250.07h0M219.14 246.52h0M185.48 249.89h0M189.4 248.72h0M169.53 249.52h0M205.97 249.97h0M196.54 247.73h0M175.43 247.16h0M172.85 246.47h0M179.39 249.09h0M196.77 249.25h0M186.81 248.12h0M230.49 250.1h0M204.02 248.29h0M211.32 248.37h0M233.52 246.95h0M161.11 247.65h0M192.03 250.06h0M201.15 250.75h0M229.53 246.49h0M194.21 251.15h0M200.77 247.3h0M211.84 247.87h0M185.27 250.2h0M217.51 250.24h0M174.36 251.02h0M189.7 247.04h0M186.07 250.01h0M194.63 249.91h0M218.52 248.25h0M217.24 249.43h0M228.78 246.82h0M212.86 246.23h0M221.58 248.99h0M211.24 247.97h0M195.8 250.42h0M183 249.04h0M189.13 247.64h0M163.84 250.36h0M204.83 247.04h0M225.02 246.15h0M223.84 246.41h0M174.99 249.52h0M188.9 247.52h0M144.6 249.61h0M192.71 249h0M209.8 248.5h0M170.89 250.74h0M202.07 246.71h0M204.2 246.96h0M198.33 251.43h0M237.68 247.7h0M210.07 246.42h0M187.87 248.03h0M209.18 248.98h0M197.38 250.27h0M191.08 247.31h0M178.88 249.87h0M215.4 250.61h0M202.74 248.54h0M198.19 249.08h0M164.98 250.8h0M182.48 248.05h0M190.92 250.96h0M174.87 249.38h0M182.72 247.96h0M198.11 246.45h0M202.37 249.73h0M214.46 248.72h0M156.94 249.93h0M226.57 250.07h0M215.08 248.63h0M181.73 249h0M189.4 250.77h0M168 249.27h0M186.32 250.54h0M180.36 250.81h0M199.53 250.27h0M208.37 246.7h0M174.27 251.23h0M213.86 247.18h0M183.44 248.47h0M186.17 247.51h0M178.02 250.61h0M191.24 249.51h0M196.79 248.78h0M180.49 251.04h0M233.18 247.88h0M194.46 247.33h0M219.04 247.52h0M205.88 248.25h0M197.53 246.23h0M219.1 247.61h0M198.95 247.14h0M171.31 248.86h0M222.9 246.5h0M240.09 248.35h0M194.97 249.41h0M204.72 247.55h0M199.74 247.88h0M202.61 250.75h0M206.97 250.34h0M195.17 246.27h0M209.68 246.15h0M197.73 248.89h0M169.13 247.23h0M220.26 247.86h0M173.08 250.25h0M163.78 247.15h0M163.73 250.47h0M187.84 250.76h0M173.15 246.31h0M175.91 250.66h0M161.79 246.94h0M232.59 247.2h0M174.64 247h0M200.48 249.2h0M165.85 246.98h0M200.57 249.93h0M151.32 246.3h0M143.31 249.46h0M181.93 246.3h0M195.32 247.03h0M176.55 250.16h0M198.95 250.3h0M213.11 248.69h0M217.73 247.54h0M174.73 249.29h0M199.35 247.86h0M156.21 246.39h0M201.25 251.07h0M173.15 247.92h0M201.29 248.32h0M175.75 246.99h0M192.21 248.98h0M189.82 251.59h0M220.4 248.89h0M215.63 248.08h0M173.88 250.19h0M196.57 249.69h0M207.58 249.83h0M168.16 250.65h0M187.51 249.21h0M223.17 247.7h0M195.33 247.89h0M181.99 251.31h0M197.46 250.13h0M180 246.36h0M182.25 246.73h0M202.77 248.22h0M207.77 248.74h0M179.04 246.37h0M130.65 248.57h0M189.1 247.07h0M204.8 251.44h0M212.99 250.29h0M212.86 247.09h0M184.07 250.22h0M186.04 248.59h0M199.24 246.88h0M171.9 246.5h0M189.96 246.72h0M187.62 248.21h0M184.67 249.17h0M210.38 247.87h0M186.62 248.16h0M174.04 247.8h0M209.16 246.61h0M172.26 246.25h0M191.92 251.38h0M207.44 248.45h0M164.99 248.8h0M191.98 247.64h0M148.66 247.15h0M209.38 250.59h0M195.66 246.39h0M200.55 248.37h0M184.49 248.44h0M211.21 247.42h0M197.59 248.1h0M185.01 250.01h0M225.69 248.19h0M142.06 247.43h0M218.69 247.07h0M182.78 246.33h0M173.79 247.63h0M185.71 250.73h0M176.34 248.36h0M208.35 249.53h0M159.44 250.08h0M150.04 249.59h0M187.49 247.58h0M200.14 251.28h0M207.21 249.81h0M152.12 246.29h0M227.48 249.72h0M173.82 250.27h0M237.33 248.79h0M182.63 250.14h0M195.39 249.48h0M152.13 249.24h0M226.35 249.69h0M210.47 246.97h0M179.57 248.07h0M194.87 250.83h0M174.21 247.39h0M166.01 247.74h0M196.55 247.5h0M188.61 246.59h0M210.84 248.54h0M184.81 250.18h0M219.68 247.22h0M228.66 248.02h0M201.51 249.62h0M206.61 250.11h0M185.78 251.24h0M159.06 247.6h0M181.42 249.3h0M195.22 249.96h0M182.41 248.06h0M220.05 247.6h0M185.78 247.37h0M153.45 247.24h0M221.55 249.22h0M162.81 249.21h0M214.81 250.18h0M209.11 248.61h0M173.52 247.84h0M200.6 249.72h0M185.35 251.25h0M171.06 246.88h0M204.21 247.9h0M173.35 248.33h0M181.93 250.06h0M211.9 246.95h0M161.88 250.12h0M175.5 248.74h0M161.54 246.61h0M218.79 246.99h0M171.69 247.92h0M199.53 247.74h0M184.21 247.75h0M179.22 251.1h0M181.06 248.27h0M199.03 250.43h0M177.12 250.22h0M217.19 246.26h0M208.75 247.16h0M171.54 250.85h0M216.14 246.93h0M190.92 248.19h0M193.2 250.92h0M190.57 249.21h0M198.74 248.57h0M193.74 247.09h0M186.26 251.02h0M196.29 249.77h0M220.11 249.31h0M178.67 247.23h0M185.72 250.47h0M211.49 248.49h0M160.24 250.61h0M192.55 248.89h0M186.87 249.31h0M218.27 247.46h0M202.81 248.36h0M171.88 248.23h0M206.06 250.21h0M237.13 246.9h0M141.85 246.28h0M163.06 250.54h0M244.23 247.97h0M206.69 247.8h0M208.43 247.65h0M173.76 250.31h0M196.94 249.42h0M188.96 247.6h0M204.84 248.7h0M179.13 247.71h0M196.79 250.55h0M189.13 247.79h0M217.76 246.26h0M190.96 246.58h0M141.96 247.16h0M190.29 250.55h0M184.47 251.52h0M213.09 247.99h0M166.97 249.75h0M184.18 248.14h0M201.33 246.18h0M189.58 250.71h0M197.47 249.67h0M221.42 248.69h0M169.8 250.64h0M200.95 247.34h0M199.03 249.02h0M236.63 246.94h0M189.03 249.04h0M196.37 251.04h0M182.06 248.49h0M177.71 250.09h0M190.99 251.58h0M218.72 246.4h0M174.27 246.23h0M182.11 232.14h0M181.62 230.15h0M185.85 245.79h0M178.19 227.72h0M183.48 237.98h0M178.15 223.3h0M185.34 243.55h0M178.47 222.88h0M183.01 237.86h0M181.06 229.43h0M186.25 246.64h0M183.98 240.07h0M180.32 225.33h0M181.61 233.95h0M183.53 239.09h0M179.92 227.1h0M183.48 237.01h0M184.61 241.25h0M178.69 224.06h0M178.57 225.88h0M181.77 231.37h0M184.67 241.99h0M184.07 238.76h0M182.43 235.97h0M186.47 247.31h0M178.65 227.55h0M187.19 250.25h0M181.7 230.52h0M185.69 244.42h0M184.93 243.27h0M178.94 222.25h0M185.49 244.89h0M178.52 227.53h0M186.67 248.36h0M184.28 238.72h0M183.97 237.66h0M180.5 230.72h0M178.24 223.82h0M179.03 222.27h0M184.63 242.03h0M185.53 244.77h0M182.8 237.16h0M185.34 242.69h0M186.54 248.1h0M185.94 245.44h0M185.66 244.57h0M183.8 238.18h0M185.46 244.73h0M178.57 225.34h0M180.76 229.91h0M178.14 223.91h0M178.29 223.3h0M185.57 244.35h0M179.2 224.59h0M179.98 227.48h0M179.09 222.25h0M183.12 237h0M178.94 224.02h0M185.92 244.94h0M179.01 226.62h0M180.87 228.01h0M179.44 224.91h0M187.12 249.81h0M178.13 228.72h0M179.12 224.29h0M183.6 237.83h0M182.28 234.28h0M183.72 237.73h0M186.54 247.45h0M185.43 242.98h0M185.81 244.72h0M178.35 224.37h0M185.93 245.59h0M186.19 246.79h0M186.78 248.6h0M184.6 241.76h0M180.85 230.46h0M181.07 232.58h0M182.16 231.09h0M184.12 238.12h0M185.12 241.98h0M187.26 250.5h0M180.6 230.39h0M181.88 235.11h0M180.2 225.08h0M186.58 247.96h0M185.19 242.39h0M186.3 246.43h0M182.99 237.66h0M185.7 245.03h0M183.87 239.18h0M183.04 234.19h0M179.56 225.54h0M184.08 239.27h0M186.74 248.46h0M186.52 247.39h0M187.01 249.61h0M180.03 228.58h0M186.45 247.81h0M180.48 227.06h0M187.22 250.37h0M182.12 232.4h0M184.45 239.88h0M185.03 243.07h0M180.45 231.38h0M184.46 241.46h0M180.47 225.45h0M184.02 238.9h0M184.13 239.26h0M184.49 241.29h0M178.66 228.78h0M178.2 226.66h0M179.38 228.45h0M182.63 232.77h0M184.43 241.17h0M185.18 243.69h0M179 227.08h0M181.85 231.54h0M182.18 232.4h0M178.95 222.57h0M181.23 228.77h0M178.35 223.31h0M180.16 225.15h0M185.49 243.67h0M180.64 231.98h0M179.83 223.73h0M179.53 224.53h0M183.5 236.96h0M179.74 228.78h0M178.97 222.2h0M181.61 230.98h0M183.34 238.15h0M178.67 229.15h0M185.95 246.12h0M186.97 249.35h0M184.75 242.51h0M185.35 244.05h0M181.46 231.21h0M179.1 227.48h0M185.43 244.21h0M181.59 230.3h0M180.14 229.49h0M180.09 228.09h0M181.45 230.53h0M182.43 232.54h0M178.54 224.5h0M185.8 245.49h0M178.34 226.11h0M179.14 225.96h0M184.65 242.33h0M179.16 225.82h0M179.68 228h0M182.14 235.3h0M178.7 226.67h0M182.41 232.14h0M183.2 238.37h0M180.13 225.78h0M183.27 235.4h0M186.97 249.11h0M179.09 222.48h0M193.46 238.76h0M190.43 246.85h0M190.79 246.75h0M191.24 244.14h0M192.91 238.86h0M189.6 249.44h0M191.69 244.11h0M194.64 234.46h0M189.99 248.09h0M193.09 240.09h0M189.06 250.64h0M193.37 239.81h0M192.99 238.55h0M193.57 238.46h0M193.24 238.16h0M194.54 235.82h0M195.85 226.86h0M195.31 229.51h0M192.12 241.17h0M190.52 247.26h0M194.09 233.95h0M189.67 249.39h0M189.28 250.22h0M190.17 248.19h0M195.38 230.76h0M197.01 229.73h0M194.78 235.74h0M197.09 230.78h0M193.05 239.11h0M197.09 229.17h0M197.46 228.37h0M190.82 245.66h0M190.7 245.84h0M192.88 240.58h0M197.2 230.23h0M192.45 241.53h0M194.69 235.96h0M192.17 242.84h0M196.06 232.22h0M194.17 236.47h0M192.86 239.59h0M195.06 234.25h0M191.03 246.07h0M197.19 231.3h0M190.14 248h0M193.95 234.55h0M189.46 249.87h0M190.4 247.22h0M192.84 240.12h0M196.57 228.12h0M196.33 226.3h0M191.27 244.01h0M192.46 242.32h0M196.8 231.58h0M189.12 250.56h0M191.44 243.38h0M196.42 229.62h0M193.5 236.35h0M195.88 228.53h0M193.36 239.52h0M191.05 245.17h0M193.99 234.75h0M196.66 226.26h0M190.62 247.19h0M196.65 228.69h0M190.52 246.75h0M191.16 245.54h0M192.1 242.14h0M194.77 235.48h0M195.31 230.76h0M193.01 238.73h0M195.81 232.65h0M193.04 238.6h0M195.04 231.64h0M190.51 246.5h0M195.69 231.69h0M192.65 239.08h0M190.74 246.45h0M197.2 226.65h0M190.96 245.36h0M192.05 241.98h0M195.53 232.82h0M190.87 246.34h0M191.25 245.64h0M190.13 248.12h0M192.57 241.93h0M193.95 234.29h0M193.91 236.89h0M195 232.88h0M190.47 247.13h0M189.12 250.52h0M190.35 247.58h0M197.21 227.47h0M196.12 228.25h0M194.4 233.67h0M197.24 231.01h0M195.53 231.85h0M191.16 244.59h0M194.11 234.08h0M196.46 228.58h0M190.67 247.14h0M193.55 236.65h0M191.3 245.43h0M189.01 250.75h0M194.93 235.36h0M190.94 246.1h0M195.06 229.79h0M189.13 250.54h0M196.97 226.22h0M190.24 247.9h0M193.44 238.53h0M192.54 240.87h0M191.18 245.77h0M189.69 249.37h0M189.75 249h0M194.93 234.01h0M195.75 228.56h0M191.89 242.88h0M190.58 246.31h0M193.77 238.57h0M190.29 247.45h0M192.27 241.12h0M190.93 245.35h0M195.83 232.07h0M193.99 237.33h0M195.03 230.86h0M195.74 231.54h0M189.77 248.93h0M193.81 238.1h0M190.62 246.59h0M189.89 248.61h0M191.03 245.85h0M192.59 240.54h0M195.17 234.48h0M195.17 233.46h0M191.46 243.94h0M194.89 232.36h0M196.69 230.95h0M191.63 243.34h0M191.2 245.55h0M83.69 247.21h0M100.23 247.75h0M106.07 248.11h0M116.77 247.57h0M125.53 249.01h0M129.42 247.93h0M133.31 249.72h0M136.23 248.65h0M261.75 248.29h0M268.56 249.01h0M272.45 250.08h0M254.94 247.93h0M257.86 249.72h0" stroke="#9bb0c8" stroke-width="3.2" stroke-linecap="round" fill="none"/>
<path d="M154.73 244.45h0M172.85 235.14h0M176.82 231.07h0M157.25 244.93h0M169.66 245.23h0M166.28 245.07h0M149.39 246.02h0M152.47 245.04h0M174.37 238.04h0M153.87 245.88h0M163.19 242.17h0M158.85 242.94h0M163.87 240.09h0M151.11 246.07h0M159.58 243.66h0M155.53 244.39h0M154.6 245.4h0M162.29 241.34h0M171.14 240.66h0M161.39 240.62h0M176.08 234.56h0M151.07 245.8h0M167.12 242.96h0M149.03 245.99h0M175.34 243.42h0M161.96 242.05h0M156.96 245.84h0M170.55 235.97h0M161.1 245.51h0M159.79 245.55h0M176.97 244.85h0M156.59 243.73h0M151.98 246h0M150.04 246.06h0M163.95 239.64h0M153.01 245.85h0M170.98 240.01h0M158.1 245.54h0M155.23 243.83h0M151.44 245.9h0M170.25 234.78h0M175.18 237.48h0M176.75 234.4h0M156.62 244.59h0M169.5 237.08h0M151.82 245.92h0M176.81 243.65h0M172.44 240.66h0M155.39 245.42h0M162.06 239.84h0M152.39 245.15h0M157.6 245.39h0M170.37 241.31h0M153.56 245.4h0M172.69 233.25h0M165.25 245.99h0M170.93 237.74h0M175.04 230.02h0M157.77 242.95h0M172.61 241.69h0M158.94 244.33h0M158.55 244.41h0M151.23 245.94h0M175.34 238.45h0M167.08 237.14h0M170.7 242.48h0M175.64 231.82h0M177.79 231.5h0M170.68 235.38h0M155.54 244.41h0M159.39 242.17h0M151.94 245.58h0M158.05 242.91h0M158.32 242.69h0M173.48 232.41h0M152.1 245.17h0M170.36 237.21h0M167.59 245.46h0M174.15 236.81h0M161.65 243.84h0M171.52 235.17h0M174.14 242.13h0M158.18 245.01h0M150.94 245.9h0M148.69 246.07h0M154.76 245.94h0M149.95 245.87h0M153.89 245.26h0M160.03 242.01h0M176.68 239.72h0M166.98 237.15h0M162.1 240.34h0M170.04 241.79h0M174.27 236.36h0M151.1 245.71h0M172.92 237.88h0M162.51 243.11h0M174.46 234.83h0M154.18 245.38h0M158.86 241.97h0M168.9 244.37h0M175.49 245.29h0M165.73 241.92h0M169.55 240.53h0M150.69 245.82h0M172.65 234.28h0M158.66 245.05h0M170.37 235.73h0M154.51 244.32h0M177.84 236.93h0M159.39 242.73h0M175.95 241.94h0M157.01 244.93h0M169.99 243.4h0M164.4 241.85h0M168.07 244.26h0M176.76 227.66h0M164.83 239.38h0M153.44 244.71h0M164.54 239.82h0M174.1 239.73h0M175.78 241.88h0M148.61 246.09h0M175.01 230.83h0M176.71 236.07h0M176.04 235.58h0M152.24 245.42h0M172.14 239.57h0M166.07 243.4h0M156.23 244.82h0M163.39 242.47h0M150.69 246.13h0M158.17 243.23h0M170.48 242.63h0M155.62 244.72h0M153.2 245.21h0M175.18 242.11h0M165.57 239.54h0M170.51 236.7h0M169.34 242.46h0M173.19 232h0M149.49 245.91h0M161.26 245.49h0M150.01 245.84h0M168.35 244.23h0M161.78 242.02h0M178 238.76h0M171.03 242.39h0M153.91 245.79h0M160.28 242.77h0M157.05 245.49h0M154.5 245.91h0M153.73 245.54h0M163.13 244.59h0M162.38 243h0M177.26 236.23h0M176.41 236.92h0M153.88 245.05h0M152.27 245.91h0M150.12 245.85h0M177.07 237.84h0M158.59 244.21h0M158.52 243.18h0M159.73 245.24h0M173.98 236.53h0M148.1 246.12h0M169.88 241.31h0M166.91 236.97h0M160.02 243.77h0M156.9 244.24h0M167.9 238.06h0M176.54 242.91h0M158.94 242.35h0M171.77 237.49h0M168.33 241.96h0M176.41 235.56h0M160.05 245.04h0M151.39 245.43h0M172.05 245.59h0M157.66 244.26h0M162.86 243.36h0M174.91 239.63h0M163.95 238.96h0M167.19 240.95h0M157.94 244.52h0M166.28 238.58h0M155.77 245.06h0M159.6 244.22h0M175.45 236.26h0M156.23 245.07h0M172.68 243.3h0M168.72 245.77h0M153.73 246h0M172.21 243.59h0M154.78 245.97h0M155.87 244.11h0M169.63 235.04h0M176.47 235.49h0M175.72 244.14h0M175.81 237.84h0M153.73 244.84h0M173.81 239.47h0M150.72 245.64h0M170.64 238.01h0M177.37 245.13h0M149.59 246.09h0M148.56 246.09h0M166.91 244.75h0M152.79 245.86h0M166.28 239.56h0M177.15 238.6h0M177.44 237.1h0M159.7 244.73h0M154.92 243.97h0M177.92 231.81h0M153.19 245.82h0M152.5 245.68h0M170.14 245.16h0M163.9 240.74h0M148.92 246.08h0M171.76 237.68h0M161.53 240.78h0M166.04 242.68h0M159.85 241.47h0M173.83 231.61h0M164.82 244.7h0M153.19 245.52h0M168.74 246.04h0M172.1 234.71h0M163.44 246.06h0M171.98 239.77h0M168.1 239.62h0M169.88 240.65h0M176.86 228.31h0M175.93 234.72h0M157.45 244.67h0M156.02 243.62h0M171.8 234.9h0M172.68 231.56h0M168.66 242.11h0M170.76 242.23h0M166.33 244.34h0M173.78 237.9h0M156.21 243.48h0M150.41 245.69h0M170.74 243.79h0M170.86 238.19h0M175.27 235.58h0M160.8 240.95h0M150.54 245.73h0M151.01 245.93h0M151.34 245.46h0M161.23 241.78h0M155.65 244.2h0M167.48 244.86h0M162.8 241.02h0M154.38 244.79h0M156.29 244.95h0M175.66 229.61h0M178.01 236.99h0M165.15 239.08h0M170.79 239.7h0M173.96 239.17h0M176.56 236.82h0M151.48 245.51h0M152.28 245.36h0M149.52 245.89h0M164.22 240.14h0M151.86 245.51h0M159.26 244.83h0M172.49 245.45h0M162.32 245.41h0M173.59 232.12h0M148.94 246.07h0M162.05 241.42h0M169.9 241.44h0M176.04 242.23h0M152.03 245.3h0M151.53 245.95h0M162.99 243.51h0M152.85 244.91h0M162.2 240.95h0M155.45 243.86h0M154.58 244.25h0M166.39 236.91h0M171.17 237.3h0M163.98 239.46h0M161.29 245.41h0M175.47 231.94h0M168.48 237.6h0M154.91 245.03h0M172.73 231.9h0M175.75 242.76h0M168.53 239.57h0M160.13 245.11h0M152.04 245.62h0M162.78 244.04h0M159 243.55h0M170.89 237.97h0M152.8 244.98h0M159 241.89h0M177.52 242.85h0M165.47 237.62h0M159.52 243.39h0M157.37 245.99h0M154.08 245.85h0M156.48 244.16h0M164.89 238.18h0M168.58 241.64h0M176.54 234.01h0M164.29 239.21h0M168.11 241.81h0M166.15 242.99h0M177.14 240.84h0M177.25 244.53h0M148.2 246.12h0M154.11 245.13h0M151.47 245.45h0M168.09 238.45h0M175.86 228.64h0M168.36 238h0M147.96 246.13h0M160.77 240.79h0M157.35 244.05h0M148.17 246.13h0M175.13 235.61h0M172.77 245.83h0M154.02 245.75h0M173.01 244.22h0M176.02 240.71h0M174.47 237.15h0M157.66 242.61h0M160.13 242.45h0M149.94 245.84h0M177.5 243.49h0M170.42 242.21h0M152.37 245.68h0M167.87 235.95h0M177.89 226.68h0M166.71 239.51h0M152.77 245.18h0M164.53 242.92h0M175.06 241.2h0M152.18 245.93h0M152.41 245.43h0M172.06 243.41h0M163.07 241.86h0M164.81 242.4h0M164.3 245.95h0M149.66 246.01h0M155.05 244.36h0M155.2 244.16h0M155.19 245.86h0M162.31 243.36h0M158.03 243.12h0M154.61 244.69h0M173.08 238.76h0M163.08 239.57h0M166.13 244.14h0M150 246.09h0M157.91 245.71h0M167.48 241.37h0M157.21 244.28h0M176.16 241.1h0M152.57 245.72h0M157.69 242.78h0M169.21 240.66h0M152.91 246.05h0M151.6 245.4h0M167.45 244.19h0M166.76 245.38h0M163.2 243.47h0M151 245.64h0M169.53 239.59h0M152.98 245.18h0M160.98 242.25h0M150.67 245.63h0M148.01 246.13h0M159.92 244.98h0M150.56 245.77h0M177.88 238.82h0M155.94 244.24h0M154.62 245.22h0M168.67 240.85h0M152.6 246.02h0M164.29 238.3h0M175.66 243.94h0M163.06 242.44h0M153.76 244.96h0M162.86 240.44h0M156.71 243.2h0M172.48 238.73h0M152.17 245.59h0M151.74 245.5h0M168.94 239.11h0M177.36 244.96h0M169.48 236.35h0M151.31 245.86h0M149.53 245.98h0M169.72 241.44h0M168.88 241.49h0M169.39 242.4h0M177.41 237.05h0M148.02 246.13h0M169.81 235.41h0M167.11 244.26h0M174.21 234.22h0M151.38 245.81h0M168.16 246.06h0M149.18 246.07h0M174.29 230.03h0M157.51 242.88h0M171.62 234.05h0M165.65 237.47h0M167.34 236.41h0M164.97 244.19h0M163.55 242.3h0M158.08 244.54h0M163.31 241.67h0M154.62 245.48h0M163.08 242.33h0M160.54 242.43h0M153.5 245.24h0M156.23 243.87h0M169.13 236.8h0M163.51 244.03h0M175.83 236.53h0M159.22 244.64h0M160.03 242.44h0M172.6 238.54h0M158.9 240.59h0M169.29 232.12h0M172.73 229.15h0M157.56 235.91h0M174.68 228.28h0M155.68 238.21h0M161.61 235.02h0M160.81 239.01h0M177.15 225.03h0M177.59 210.42h0M167.21 230.45h0M128.49 245.29h0M172.07 231.4h0M154.89 237.22h0M168.31 232.83h0M173.48 227.36h0M159.9 229.84h0M150.49 235.47h0M169.63 231.32h0M172.57 213.15h0M175.11 228.36h0M173.26 218.09h0M150.11 243.72h0M150.22 234.59h0M169.94 232.74h0M156.45 240.8h0M176.22 216.47h0M169.62 231.53h0M164.87 236.33h0M177.77 224.2h0M171.11 232.76h0M171.29 225.46h0M172.16 226.18h0M163.77 237.55h0M177.77 221.04h0M164.29 236.48h0M174.81 219.78h0M143.04 243.28h0M165.59 235.31h0M177.53 224.94h0M162.98 234.53h0M167.66 235.02h0M174.58 227.84h0M170.21 231.31h0M144.12 232.25h0M174.06 220.43h0M174 225.8h0M171.16 232.57h0M154.84 235.6h0M173.49 223.18h0M168.55 213.12h0M177.25 224.78h0M174.3 225.05h0M156.11 234.05h0M166.47 234.14h0M154.61 243.51h0M173.68 223.52h0M169.6 209.16h0M176.68 224.62h0M174.58 229.7h0M176.64 227.3h0M171.35 229.75h0M167.72 233.9h0M160.4 237.22h0M119.58 243.82h0M168.14 232.95h0M149.25 244.77h0M147.41 244.81h0M164.15 234.17h0M173.19 230.53h0M132.74 245.74h0M162.47 235.69h0M172.28 229.79h0M150.86 243.45h0M170.18 217.8h0M139.15 32.89h0M171.26 178.28h0M165.42 193.36h0M166.88 195.51h0M173.21 193.36h0M159.58 198.75h0M172.72 207.72h0M172.72 211.31h0M169.31 214.18h0M113.85 240.75h0M126.5 238.59h0M125.53 240.75h0M161.53 219.57h0M177.1 221.36h0M153.75 222.08h0M138.18 226.39h0M143.04 229.26h0" stroke="#6ccc5e" stroke-width="3.2" stroke-linecap="round" fill="none"/>
<path d="M206.71 243.14h0M208.51 234.72h0M205.36 238.97h0M210.72 241.91h0M201.41 231.97h0M212.64 239.49h0M197.88 243.63h0M200.92 229.89h0M206.27 237.45h0M216.82 237.86h0M200.35 235.17h0M205.76 234.21h0M198.64 244.26h0M217.79 235.72h0M205.49 240.52h0M212.37 236.56h0M208.33 235.47h0M209.63 243.62h0M205.19 236.63h0M217.36 235.56h0M200.96 242.09h0M215.57 238.36h0M206.34 233.24h0M213.51 239.67h0M232.92 237h0M209.4 234.88h0M212.75 245.47h0M209.57 230.32h0M219.95 241.62h0M201.51 231.74h0M209.22 237.06h0M221.28 245.84h0M209.25 231.99h0M207.2 234.3h0M225.04 243.08h0M203.27 230.89h0M199.25 241.19h0M200.28 244.89h0M215.27 243.87h0M206.17 243.18h0M200.55 230.54h0M208.53 230.78h0M226.79 240.05h0M228.67 236.02h0M203.76 232.31h0M229.16 236.92h0M198.39 235.16h0M203.65 236.54h0M218.9 243.58h0M215.74 234.12h0M221.68 238.95h0M203.09 242.53h0M208.57 233.38h0M200.63 231.98h0M197.83 241.8h0M219.27 242.26h0M204.68 239.6h0M231.81 240.12h0M200.8 233.24h0M197.56 238.75h0M206.96 242.31h0M206.85 239.95h0M199.84 239.6h0M218.07 237.21h0M215.44 237.87h0M223.56 238.56h0M199.69 235.12h0M206.65 239.85h0M199.93 241.54h0M203.33 235.16h0M211.17 236.1h0M199.04 242.98h0M198.33 236.71h0M197.86 243.27h0M206.22 235.72h0M213.16 235.32h0M214.77 240.89h0M214.87 231.47h0M202.34 232.24h0M218.22 238.66h0M213.68 242.67h0M228.43 244.7h0M211.86 243.37h0M206.38 242.11h0M206.88 243.37h0M207.93 242.77h0M205.62 237.81h0M201.81 236.77h0M213.04 231.89h0M203.71 245.79h0M206.04 245.37h0M201.54 233.01h0M213.39 242.17h0M204.99 232.79h0M205.42 241.99h0M218.85 236.6h0M205.65 237.73h0M208.44 244.87h0M210.96 243.29h0M214.48 236.56h0M198.22 236.49h0M204.01 231.34h0M207.66 244.53h0M200.86 241.57h0M211.54 241.61h0M205.97 240.75h0M210.73 232.67h0M200.79 233.74h0M205.09 245.96h0M204.12 240.26h0M214.49 232.8h0M211.23 229.33h0M198.51 236.84h0M201.26 238.87h0M210.31 240.54h0M203.44 244.73h0M213.54 238.39h0M202.97 238.45h0M200.63 237.8h0M223.94 243.35h0M222.25 239.77h0M214.03 234.75h0M212.13 236.16h0M203.28 241.7h0M223.93 244.84h0M207.49 239.59h0M226.09 245.91h0M224.14 237h0M215.86 237.9h0M217.56 243.72h0M204.45 233.65h0M218.71 242.54h0M210.42 234.8h0M213.64 245.69h0M209.21 235.79h0M202.02 240.13h0M212.09 240.98h0M212.69 232.63h0M203.61 232.35h0M214.18 243.96h0M198.16 235.58h0M202.79 245.62h0M199.73 243.18h0M210.88 239.15h0M212.14 243.84h0M197.65 240.74h0M208.95 239.35h0M232.61 241.09h0M202.64 240.39h0M234.33 239.21h0M204.52 233.21h0M209.78 241.12h0M200.73 238.25h0M200.16 231.91h0M201.95 233.09h0M212.08 241.16h0M207.34 238.64h0M211.51 230.25h0M205.84 236.39h0M203.78 238.8h0M212.48 230.62h0M200.76 240.71h0M216.57 244.91h0M208.97 230.48h0M206.78 233.85h0M205.1 245.74h0M202.74 237.84h0M202.71 245.8h0M203.36 244.57h0M205.67 244.41h0M203.35 243.58h0M213.54 232.14h0M206.84 241.77h0M202.89 231.84h0M219.76 244.4h0M204.28 230.15h0M213.49 231.46h0M207.91 244.23h0M217.5 236.06h0M206.02 233.77h0M200.41 242.73h0M213.82 238.45h0M201.23 240.77h0M215.89 241.19h0M201.26 232.46h0M202.19 237.47h0M198.45 239.84h0M204.44 237.33h0M200.13 239.2h0M210.93 230.99h0M203.45 230.99h0M236.82 236.67h0M207.73 232.25h0M201.33 235.55h0M211.46 234.96h0M244.37 240.59h0M202.9 231.46h0M199.58 243.31h0M198.65 243.51h0M217.02 238.03h0M198.97 237.21h0M203.7 244.16h0M217.72 234.5h0M200.64 245.28h0M210.49 239.22h0M230.92 240.93h0M212.89 233.45h0M212.97 234.92h0M212.51 237.14h0M208.08 242.69h0M232.21 237.27h0M208.94 229.38h0M223.87 242.43h0M203.32 233.41h0M204.81 231.94h0M230.05 235.47h0M200.28 238.01h0M222.21 241.18h0M214.65 231.79h0M216.12 231.76h0M201.71 243.25h0M205.07 236.27h0M200.55 244.2h0M209.95 243.27h0M199.59 233.51h0M207.35 240.26h0M204.5 241.31h0M207.27 239.15h0M212.58 239.41h0M198.67 245.94h0M206.35 246.12h0M207.99 229.9h0M198.99 245.74h0M208.21 244.25h0M202.19 237.33h0M215.57 241.68h0M206.08 239.53h0M233.92 235.61h0M203.04 231.7h0M202.29 245.7h0M203.76 234.18h0M222.46 237.72h0M200.67 236.74h0M205.07 241.34h0M204.94 233.97h0M202.97 236.19h0M201.15 235.76h0M217.04 230.53h0M204.51 240.31h0M214.39 230.42h0M202.05 240.19h0M202.27 234.01h0M215.99 234.72h0M206.03 230.27h0M200.2 238.33h0M212.62 233.14h0M200.34 235.6h0M203.73 232.34h0M197.77 236.91h0M218.93 243.85h0M208.35 240.17h0M209.92 230.07h0M212.85 232.59h0M197.85 239.36h0M214.97 242.92h0M230.94 245.12h0M200.09 238.16h0M198.32 241.12h0M211.51 231.68h0M201.66 232.81h0M206.44 240.67h0M202.89 237.54h0M213.59 237.31h0M209.98 240.37h0M234.72 243.87h0M227.07 241.47h0M203.77 245.05h0M198 241.34h0M208.82 229.8h0M216.21 231.88h0M213.48 245.87h0M207.08 239.34h0M198.97 245.14h0M217.12 236.73h0M209.18 238.99h0M209.1 244.2h0M200.47 235.78h0M222.69 244.23h0M220.72 230.83h0M214.19 233.16h0M225.31 236.76h0M205.75 241.16h0M220.66 232.16h0M210.23 241.65h0M209.72 240.83h0M203.93 233.11h0M206.95 236.69h0M206 230.41h0M226.04 238.25h0M210.24 229.38h0M212.93 236.53h0M200.38 233.8h0M216.87 237.76h0M201.38 235.18h0M219.09 230.85h0M202.12 245.84h0M209.88 244.97h0M223.6 234.59h0M217.54 232.64h0M201.46 241.82h0M204.95 234.03h0M204.39 236.92h0M207.39 235.97h0M205.24 229.99h0M203.87 241.66h0M231.69 240.03h0M207.32 232.43h0M206.09 242.91h0M220.24 231.42h0M206.28 245.75h0M199.67 232.09h0M213.84 243.12h0M205.2 236.61h0M209.48 230.42h0M209.13 243.25h0M202.49 243.64h0M204.77 236.07h0M218.21 243.91h0M202.87 243.47h0M213.45 232.15h0M201.77 230.23h0M206.43 232.32h0M197.61 237.49h0M198.16 236.76h0M217.21 232.98h0M211.38 235.19h0M217.76 240.38h0M232.99 236.9h0M208.29 234.38h0M203.36 234.36h0M208.15 241.17h0M212.37 241.58h0M204.87 231.52h0M199.55 233.02h0M198.59 237.69h0M219.31 243.96h0M201.8 240.65h0M221.21 244.44h0M202.35 237.95h0M221.29 233.54h0M201.13 239.93h0M203.17 231.19h0M200.43 233.29h0M202.22 244.4h0M200.44 241.67h0M202.65 234.7h0M207.67 238.24h0M207.86 245.51h0M203.19 232.67h0M206.38 233.88h0M201.26 234.12h0M214.51 243.75h0M206.34 241.06h0M205.3 233.47h0M200.33 241.15h0M209.73 231.45h0M207.94 239.41h0M209.88 230.52h0M211.84 236.29h0M203.26 231.47h0M197.97 244.89h0M208.44 237.37h0M198.48 240.71h0M205.71 229.41h0M211.28 231.84h0M199.16 233.83h0M202.69 235.15h0M202.62 233.45h0M215.89 240.63h0M207.14 237.15h0M201.13 237.93h0M212.43 230.67h0M224.29 239.1h0M215.49 229.83h0M217.96 235.32h0M221.89 232.9h0M234.53 245.82h0M219.93 232.64h0M203.31 232.02h0M209.91 242.24h0M197.78 241.7h0M213.39 242.54h0M204.6 244.44h0M219.27 230.44h0M199.99 239.32h0M210.99 236.13h0M223.76 236.82h0M219.15 239.95h0M201.69 237.09h0M200.86 236.02h0M235.46 241.79h0M210.59 239.89h0M205.07 230.24h0M201.79 235.9h0M211.86 241.61h0M201.47 240.5h0M212.86 229.59h0M198.15 239.63h0M198.78 243.9h0M202.05 239.98h0M203.53 241.85h0M226.51 235.58h0M213.89 236.85h0M203.81 245.29h0M216.68 234.29h0M205.99 239.4h0M220.35 241.12h0M210.25 244.84h0M216.95 242.05h0M204.29 245.27h0M201.24 233.51h0M197.83 239.45h0M200.32 241.98h0M212.6 242.72h0M208.36 238.18h0M221.11 234.96h0M212.25 235.82h0M218.46 235.22h0M211.69 242.64h0M208.84 229.68h0M205.7 235.11h0M212.89 244.24h0M202.7 231.79h0M206.34 245.86h0M224.25 234.89h0M207.22 233.8h0M200.79 234.04h0M207.26 240.78h0M199.73 234.48h0M210.44 236.19h0M213.96 239.43h0M235.21 236.11h0M226.37 245.66h0M199.34 238.19h0M216 240.5h0M213.15 242.33h0M201.32 233.2h0M214.96 237.58h0M221.12 242.52h0M203.05 237.87h0M208.45 234.67h0M197.57 238.55h0M207.52 233.58h0M209.07 234.62h0M202.3 235.78h0M214.33 233.64h0M201.46 240.03h0M209.05 244.31h0M210.76 236.12h0M216.12 242.95h0M198.34 237.23h0M204.51 243.39h0M206.36 237.15h0M203.65 241.27h0M222.39 241.64h0M219.7 234.06h0M203.6 241.53h0M214.59 230.07h0M199.74 240.85h0M198.15 242.32h0M202.29 230.9h0M211.72 245.65h0M203.76 245.85h0M207.94 230.87h0M198.89 244.44h0M207.18 239.62h0M204.02 241.61h0M203.59 236.1h0M208.88 236.97h0M201.52 232.9h0M199.63 232.43h0M210.3 232.62h0M212.37 240.25h0M203.6 243.63h0M212.06 244.26h0M210.25 230.46h0M200.33 234.31h0M199.93 242.14h0M223.61 240.8h0M203.46 237.43h0M202.21 235.31h0M205.48 238.64h0M206.57 233.93h0M198.53 245.55h0M198.6 244.12h0M204.51 236.93h0M209.01 244.31h0M219.86 236.05h0M202.24 242.17h0M203.16 233.05h0M229.69 241.78h0M203.62 239.1h0M210.02 229.8h0M200.94 231.01h0M202.98 230.2h0M214.4 243.93h0M211.68 233.31h0M217.33 235.81h0M226.32 244.59h0M218.44 233.17h0M199.59 235.83h0M209.69 238.89h0M197.55 237.01h0M201.73 239.33h0M202.76 232.28h0M212.58 240.74h0M200.59 237.58h0M198.42 245.06h0M210.98 238.65h0M213.95 229.67h0M230.93 245.04h0M209.14 234.04h0M200.24 245.82h0M216.59 230.48h0M215.1 232.24h0M204.67 241.18h0M228.97 242.54h0M203.37 245.32h0M227.43 236.36h0M232.18 243.58h0M215.77 234.68h0M221.51 237.03h0M207.43 230.12h0M208.22 246.06h0M201.75 229.3h0M199.88 244.32h0M223.46 235.37h0M205.29 245.3h0M203.06 237.54h0M213.02 243.43h0M222.85 243.99h0M199.48 233.35h0M207.25 241.8h0M202.88 238.07h0M208.54 231.03h0M212.18 237.21h0M239.73 244.16h0M200.88 245.79h0M203.32 243.81h0M208.3 238.76h0M228.56 239.8h0M204.39 231.21h0M204.92 233.16h0M219.13 240.98h0M198.78 238.83h0M207.03 235.82h0M198.9 241.39h0M205.97 232.09h0M210.63 243.91h0M234.23 243.74h0M215.27 233.37h0M211.58 234.96h0M200.67 236.37h0M214.23 230.53h0M209.82 235.93h0M214.07 237.5h0M198.32 244.47h0M215.91 238.63h0M210.75 236.39h0M204.65 239.71h0M209.07 239.55h0M206.94 229.71h0M199.73 235.06h0M198.93 240.69h0M215.45 239.62h0M203.49 241.8h0M226.1 233.41h0M200.3 241.11h0M209.71 245h0M200.24 231.46h0M202.95 241.53h0M206.5 234.14h0M202.13 239.28h0M212.74 241.9h0M205.94 231.55h0M224.4 244.33h0M231.58 237.78h0M220.28 238.66h0M200.58 233.59h0M201.47 244.81h0M205.09 237.84h0M217 231.01h0M215.34 244.25h0M205.56 235.94h0M206.93 230.41h0M202.63 233.62h0M204.87 240.03h0M204.57 236.19h0M204.4 232.27h0M211.07 242.79h0M199.89 231.45h0M209.95 230.03h0M206.54 244.05h0M214.55 238.89h0M211.91 240.03h0M211.6 245.46h0M210.38 242.98h0M210.26 240.65h0M219.85 237.71h0M218.06 241.64h0M207.25 232.77h0M203.35 243.24h0M198.67 234.72h0M212.65 243.08h0M200.19 242.39h0M204.54 240.21h0M216.36 239h0M212.12 237.81h0M216.9 230.82h0M212.27 238.64h0M206.96 229.62h0M202.62 236.98h0M203.26 241.24h0M210.11 243.61h0M207.54 234.13h0M206.32 238.05h0M207 242.87h0M199.13 241.29h0M204.9 246.08h0M213.58 233.93h0M202.4 241.44h0M199.71 242.69h0M205.41 240.3h0M213.52 241.64h0M200.46 239.97h0M208.59 232.63h0M202.76 231.11h0M218.73 235.29h0M200.75 243.1h0M200.32 241.56h0M223.33 237.39h0M202.17 238.57h0M199.5 235.02h0M237.4 242.77h0M235.84 243.41h0M208.92 231.71h0M212.73 239.8h0M211.32 231.05h0M199.43 243.04h0M203.75 232.39h0M217.6 234.56h0M200.24 241.21h0M198.38 234.53h0M203.48 245.28h0M207.49 242.71h0M206.03 238.46h0M207.18 243.09h0M202.02 235.26h0M206.83 242.83h0M211.6 231.28h0M204.22 241.75h0M203.13 237.17h0M215.25 233.67h0M200.18 231.55h0M201.58 231.98h0M198.35 245.87h0M200.78 235.71h0M204.67 232.78h0M205.66 231.66h0M206.06 234.29h0M214.22 232.58h0M211.07 238.92h0M209.13 240.43h0M214.67 243.64h0M204.84 243.76h0M209.84 239.32h0M214.49 239h0M203.21 232.48h0M208.28 230.33h0M204.15 231.44h0M218.64 237.14h0M209 232.68h0M203.87 241.52h0M200.64 244.29h0M206.33 238.94h0M206.32 236.77h0M215.31 232.56h0M210.6 232.55h0M206.57 243.43h0M205.91 233.11h0M202.28 240.02h0M210.27 243.29h0M205.24 232.29h0M211.18 240.08h0M204.85 233.37h0M212.79 231.15h0M210.64 239.01h0M214.82 231.49h0M198.67 241.37h0M215.45 241.2h0M245.92 233.12h0M205.68 243.85h0M202.39 220.17h0M198.43 228.36h0M214.38 231.22h0M214.88 235.09h0M215.77 243.71h0M254.01 244.77h0M200.87 228.03h0M220.44 225.44h0M223.93 223.46h0M198.72 245.89h0M203.58 225.16h0M201.24 231.83h0M230.45 242.7h0M214.31 221.88h0M228.33 237.08h0M212.12 238.65h0M269.89 238.55h0M223.06 238.62h0M226.98 234.82h0M233.35 238.53h0M245.27 234.84h0M210.94 230.98h0M234.1 235.23h0M269.7 246.06h0M248.45 235.2h0M212.57 223.25h0M201.14 237.04h0M225.54 226.56h0M207.97 219.37h0M220.94 244.98h0M200.47 244.08h0M216.41 237.47h0M204.3 234.08h0M199.35 224.11h0M238.29 235.48h0M210.68 237.83h0M218.19 236.95h0M273.42 236.87h0M226.56 226.81h0M199.28 243.16h0M207.02 242.74h0M209.82 219.58h0M237.78 227.67h0M203.14 240.16h0M198.06 240.37h0M198.83 234.01h0M205.53 227.99h0M215.96 230.05h0M205.51 226.35h0M223.68 228.66h0M211.78 233.64h0M205.07 245.05h0M211.57 229.54h0M202.14 222.98h0M244.79 231.91h0M235.43 236.31h0M201.86 238.83h0M227.47 223.43h0M200.17 245.97h0M207.28 236.73h0M217.91 243.15h0M239.09 239.79h0M251.06 241.41h0M205.68 241.4h0M273 240.42h0M236.61 244.89h0M215.05 226.4h0M273.42 237.05h0M199.98 236.51h0M273.42 240.95h0M267.92 243.68h0M198.11 226.1h0M204.38 231.04h0M207.54 230.58h0M258.3 235.07h0M244.43 241.82h0M236.03 245.77h0M209.58 220.71h0M204.11 236.25h0M217.04 239.77h0M225.11 230.52h0M199.77 222.91h0M199.19 229.54h0M207.11 242.27h0M199.35 221.97h0M233.51 236.58h0M232.95 225.73h0M255.92 239.44h0M204.72 232.17h0M273.42 239.05h0M222.33 225.1h0M209.3 231.08h0M239.8 242.45h0M241.36 245.69h0M214.77 230.65h0M201.07 221.31h0M210.48 241.15h0M209.4 230.21h0M210.07 246.05h0M199.7 228.25h0M200.69 239.25h0M234.41 228.47h0M245.28 243.26h0M197.65 231.02h0M217.97 236.45h0M197.95 237.17h0M203.59 230.3h0M273.42 244.1h0M199.28 229.44h0M200.08 240.33h0M210.47 219.58h0M206.3 237.63h0M211.96 241.76h0M209.05 227.28h0M206.29 224.69h0M202.09 243.4h0M219.61 234.38h0M253.54 244.72h0M228.22 230.87h0M207.88 242.68h0M218.71 226.2h0M211.85 233.41h0M223.43 231.17h0M209.85 241.12h0M211.47 231.33h0M248.28 230.83h0M215.74 237.29h0M203.17 229.16h0M198.59 223.72h0M212.18 167.61h0M233.25 230.32h0M226.52 223.68h0M206.31 225.61h0M207.29 193.57h0M212.79 223.68h0M204.16 217.49h0M228.12 223.82h0M230.34 234.17h0M202.32 224.39h0M199.83 230.54h0M224.7 230.16h0M202.01 212.55h0M239.8 233.86h0M223.03 223.15h0M212.21 216.22h0M201.48 229.23h0M197.58 217.9h0M214.64 223.28h0M213.5 221.16h0M201.26 215h0M223.72 227.48h0M218.94 223.58h0M215.92 189.13h0M207.47 207.6h0M225.15 221.89h0M213.18 227.95h0M233.32 225.65h0M205.59 220.68h0M203.42 207.41h0M211.7 222.72h0M215.15 225.56h0M199.73 230.42h0M239.16 222.91h0M203.31 229.22h0M205.75 218.11h0M202.22 214.98h0M205.97 228.15h0M230.95 234.3h0M228.75 218.37h0M218.14 223.43h0M201.23 228.16h0M235.73 232.79h0M253.03 237.94h0M198.19 222.1h0M205.7 191.88h0M221.86 218.22h0M242.42 237.9h0M219.66 218.28h0M200.09 226.54h0M214.58 190.77h0M216.85 228.08h0M205.22 177.83h0M227.8 226.92h0M216.02 142.38h0M219.91 141.66h0M232.56 150.28h0M266.61 151h0M204.34 158.18h0M209.21 161.77h0M239.37 173.97h0M217.96 175.05h0M229.64 174.33h0M236.45 174.69h0M243.26 176.85h0M202.4 184.03h0M231.59 183.31h0M209.21 190.49h0M225.75 189.05h0M206.29 194.08h0M216.02 195.51h0M220.88 195.51h0M248.13 192.28h0M228.67 195.16h0M230.61 198.75h0M233.53 202.34h0M251.05 211.31h0M264.67 206.28h0M223.8 195.51h0M274.4 226.03h0M304.56 227.11h0M270.5 242.54h0M275.37 243.26h0M255.91 226.75h0M260.78 233.57h0M247.15 231.06h0M242.29 228.54h0M213.1 205.93h0M200.45 208.44h0" stroke="#e01b50" stroke-width="3.2" stroke-linecap="round" fill="none"/>
<line x1="178.5" y1="17.4" x2="178.5" y2="269" stroke="#6a6a6a" stroke-width="1.1" stroke-dasharray="3.2 2.6"/>
<line x1="187.5" y1="17.4" x2="187.5" y2="269" stroke="#6a6a6a" stroke-width="1.1" stroke-dasharray="3.2 2.6"/>
<line x1="197.5" y1="17.4" x2="197.5" y2="269" stroke="#6a6a6a" stroke-width="1.1" stroke-dasharray="3.2 2.6"/>
<line x1="52" y1="246.5" x2="324" y2="246.5" stroke="#666" stroke-width="1.1" stroke-dasharray="4.5 3"/>
<circle cx="117.74" cy="123.71" r="1.9" fill="#6ccc5e" stroke="#111" stroke-width="1.1"/>
<text x="84.2" y="121.2" font-size="10.4">CCBE1</text>
<circle cx="111.91" cy="215.62" r="1.9" fill="#6ccc5e" stroke="#111" stroke-width="1.1"/>
<text x="77.6" y="214" font-size="10.4">CELF2</text>
<circle cx="146.93" cy="225.67" r="1.9" fill="#6ccc5e" stroke="#111" stroke-width="1.1"/>
<text x="119.8" y="223.2" font-size="10.4">CCL2</text>
<circle cx="161.53" cy="222.44" r="1.9" fill="#6ccc5e" stroke="#111" stroke-width="1.1"/>
<text x="129.5" y="214.6" font-size="10.4">SPOCK2</text>
<circle cx="220.88" cy="175.05" r="1.9" fill="#e01b50" stroke="#111" stroke-width="1.1"/>
<text x="209" y="171.1" font-size="10.4">GPX3</text>
<circle cx="261.75" cy="214.9" r="1.9" fill="#e01b50" stroke="#111" stroke-width="1.1"/>
<text x="256.6" y="225.2" font-size="10.4">PTPRN</text>
<circle cx="314.29" cy="222.44" r="1.9" fill="#e01b50" stroke="#111" stroke-width="1.1"/>
<text x="297" y="220" font-size="10.4">TFAP2B</text>
<rect x="265" y="30.3" width="7" height="7" fill="#e01b50"/>
<text x="277.6" y="37.6" font-size="10.6">Up</text>
<rect x="265" y="42.9" width="7" height="7" fill="#9bb0c8"/>
<text x="277.6" y="50.2" font-size="10.6">no-DEGS</text>
<rect x="265" y="55.5" width="7" height="7" fill="#6ccc5e"/>
<text x="277.6" y="62.8" font-size="10.6">Down</text>
<text x="0.01" y="16.15" font-size="21.08" font-weight="bold" fill="#000" transform="translate(0.01 16.15) scale(1.025 1) translate(-0.01 -16.15)" stroke="#000" stroke-width="0.6" stroke-linejoin="round">A</text>
<line x1="422.5" y1="31.5" x2="422.5" y2="173.2" stroke="#333" stroke-width="1.3"/>
<line x1="422.8" y1="172.5" x2="508.2" y2="172.5" stroke="#333" stroke-width="1.3"/>
<line x1="414.8" y1="172.5" x2="422.8" y2="172.5" stroke="#333" stroke-width="1.3"/>
<text x="412.3" y="177.2" font-size="12.8" text-anchor="end">0</text>
<line x1="414.8" y1="125.5" x2="422.8" y2="125.5" stroke="#333" stroke-width="1.3"/>
<text x="412.3" y="130.17" font-size="12.8" text-anchor="end">50</text>
<line x1="414.8" y1="78.5" x2="422.8" y2="78.5" stroke="#333" stroke-width="1.3"/>
<text x="412.3" y="83.13" font-size="12.8" text-anchor="end">100</text>
<line x1="414.8" y1="31.5" x2="422.8" y2="31.5" stroke="#333" stroke-width="1.3"/>
<text x="412.3" y="36.1" font-size="12.8" text-anchor="end">150</text>
<line x1="446.5" y1="172.6" x2="446.5" y2="180.6" stroke="#333" stroke-width="1.3"/>
<line x1="482.5" y1="172.6" x2="482.5" y2="180.6" stroke="#333" stroke-width="1.3"/>
<rect x="434.6" y="168.75" width="23.6" height="3.85" fill="#333"/>
<polyline points="472.15,172.6 472.15,78.66 493.75,78.66 493.75,172.6" fill="none" stroke="#b853dc" stroke-width="2.7"/>
<line x1="482.5" y1="75.24" x2="482.5" y2="78.53" stroke="#c57ae4" stroke-width="1.5"/>
<line x1="476.35" y1="75.24" x2="489.55" y2="75.24" stroke="#c57ae4" stroke-width="1.6"/>
<line x1="476.35" y1="78.53" x2="489.55" y2="78.53" stroke="#c57ae4" stroke-width="1.6"/>
<rect x="480.7" y="75.29" width="4.6" height="4.6" fill="#b853dc"/>
<polyline points="446.5,160.5 446.5,52.5 483.5,52.5 483.5,64.4" fill="none" stroke="#333" stroke-width="1.1"/>
<path d="M451.71 38.2L451.71 44.4M449.03 39.75L454.39 42.85M454.39 39.75L449.03 42.85M460.47 38.2L460.47 44.4M457.79 39.75L463.15 42.85M463.15 39.75L457.79 42.85M469.23 38.2L469.23 44.4M466.55 39.75L471.91 42.85M471.91 39.75L466.55 42.85M477.99 38.2L477.99 44.4M475.31 39.75L480.67 42.85M480.67 39.75L475.31 42.85" stroke="#111" stroke-width="1.45" fill="none"/>
<text x="464.8" y="11.3" font-size="12.6" text-anchor="middle">A375</text>
<line x1="590.5" y1="32" x2="590.5" y2="173.2" stroke="#333" stroke-width="1.3"/>
<line x1="590.4" y1="172.5" x2="675.8" y2="172.5" stroke="#333" stroke-width="1.3"/>
<line x1="582.4" y1="172.5" x2="590.4" y2="172.5" stroke="#333" stroke-width="1.3"/>
<text x="579.9" y="177.2" font-size="12.8" text-anchor="end">0</text>
<line x1="582.4" y1="137.5" x2="590.4" y2="137.5" stroke="#333" stroke-width="1.3"/>
<text x="579.9" y="142.05" font-size="12.8" text-anchor="end">5</text>
<line x1="582.4" y1="102.5" x2="590.4" y2="102.5" stroke="#333" stroke-width="1.3"/>
<text x="579.9" y="106.9" font-size="12.8" text-anchor="end">10</text>
<line x1="582.4" y1="67.5" x2="590.4" y2="67.5" stroke="#333" stroke-width="1.3"/>
<text x="579.9" y="71.75" font-size="12.8" text-anchor="end">15</text>
<line x1="582.4" y1="32.5" x2="590.4" y2="32.5" stroke="#333" stroke-width="1.3"/>
<text x="579.9" y="36.6" font-size="12.8" text-anchor="end">20</text>
<line x1="614.5" y1="172.6" x2="614.5" y2="180.6" stroke="#333" stroke-width="1.3"/>
<line x1="650.5" y1="172.6" x2="650.5" y2="180.6" stroke="#333" stroke-width="1.3"/>
<polyline points="603.45,172.6 603.45,166.82 625.55,166.82 625.55,172.6" fill="none" stroke="#333" stroke-width="2.5"/>
<circle cx="607.5" cy="165.57" r="2.2" fill="#333"/>
<circle cx="614.5" cy="165.22" r="2.2" fill="#333"/>
<circle cx="621.5" cy="165.57" r="2.2" fill="#333"/>
<polyline points="640.15,172.6 640.15,83.26 661.65,83.26 661.65,172.6" fill="none" stroke="#b853dc" stroke-width="2.7"/>
<line x1="650.5" y1="70.67" x2="650.5" y2="93.16" stroke="#c57ae4" stroke-width="1.5"/>
<line x1="644.3" y1="70.67" x2="657.5" y2="70.67" stroke="#c57ae4" stroke-width="1.6"/>
<line x1="644.3" y1="93.16" x2="657.5" y2="93.16" stroke="#c57ae4" stroke-width="1.6"/>
<rect x="648.5" y="69.77" width="4.6" height="4.6" fill="#b853dc"/>
<rect x="648.5" y="78.56" width="4.6" height="4.6" fill="#b853dc"/>
<rect x="648.5" y="91.56" width="4.6" height="4.6" fill="#b853dc"/>
<polyline points="614.5,155 614.5,48.5 650.5,48.5 650.5,60.4" fill="none" stroke="#333" stroke-width="1.1"/>
<path d="M623.49 34.3L623.49 40.5M620.81 35.85L626.17 38.95M626.17 35.85L620.81 38.95M632.25 34.3L632.25 40.5M629.57 35.85L634.93 38.95M634.93 35.85L629.57 38.95M641.01 34.3L641.01 40.5M638.33 35.85L643.69 38.95M643.69 35.85L638.33 38.95" stroke="#111" stroke-width="1.45" fill="none"/>
<text x="633.2" y="11.3" font-size="12.6" text-anchor="middle">A875</text>
<text x="0" y="0" font-size="13" text-anchor="middle" fill="#222" transform="translate(381.5 103) rotate(-90)">Relative <tspan font-style="italic">CCBE1</tspan> expression</text>
<text x="0" y="0" font-size="13" text-anchor="middle" fill="#222" transform="translate(555.6 103) rotate(-90)">Relative <tspan font-style="italic">CCBE1</tspan> expression</text>
<text x="451.4" y="191" font-size="13.4" text-anchor="end" fill="#222" transform="rotate(-45 451.4 191)"><tspan font-style="italic">CANT2</tspan>-NC</text>
<text x="619" y="191" font-size="13.4" text-anchor="end" fill="#222" transform="rotate(-45 619 191)"><tspan font-style="italic">CANT2</tspan>-NC</text>
<text x="488.3" y="191" font-size="13.4" text-anchor="end" fill="#222" transform="rotate(-45 488.3 191)"><tspan font-style="italic">CANT2</tspan>-KO</text>
<text x="655.5" y="191" font-size="13.4" text-anchor="end" fill="#222" transform="rotate(-45 655.5 191)"><tspan font-style="italic">CANT2</tspan>-KO</text>
<text x="350.94" y="17.65" font-size="21.66" font-weight="bold" fill="#000" transform="translate(350.94 17.65) scale(0.833 1) translate(-350.94 -17.65)" stroke="#000" stroke-width="0.6" stroke-linejoin="round">B</text>
<text x="527.22" y="15.94" font-size="21.19" font-weight="bold" fill="#000" transform="translate(527.22 15.94) scale(0.844 1) translate(-527.22 -15.94)" stroke="#000" stroke-width="0.6" stroke-linejoin="round">C</text>
<defs><filter id="blur1" x="-20%" y="-50%" width="140%" height="200%"><feGaussianBlur stdDeviation="1.3 1.0"/></filter></defs>
<text x="417.24" y="277.05" font-size="22.09" font-weight="bold" fill="#000" transform="translate(417.24 277.05) scale(0.953 1) translate(-417.24 -277.05)" stroke="#000" stroke-width="0.6" stroke-linejoin="round">D</text>
<text x="522" y="266.3" font-size="10.3" text-anchor="middle">A375</text>
<text x="580.1" y="266.3" font-size="10.3" text-anchor="middle">A875</text>
<line x1="499.3" y1="270.5" x2="544.7" y2="270.5" stroke="#222" stroke-width="1"/>
<line x1="556.2" y1="270.5" x2="601.8" y2="270.5" stroke="#222" stroke-width="1"/>
<text x="480.5" y="280.8" font-size="9.8" text-anchor="end" font-style="italic">CANT2</text>
<text x="504" y="280.8" font-size="10.8" text-anchor="middle">+</text>
<text x="536" y="280.8" font-size="10.8" text-anchor="middle">-</text>
<text x="565.2" y="280.8" font-size="10.8" text-anchor="middle">+</text>
<text x="593.7" y="280.8" font-size="10.8" text-anchor="middle">-</text>
<defs><linearGradient id="gd1" x1="0" x2="1" y1="0" y2="0"><stop offset="0" stop-color="#d4d4d4"/><stop offset="0.85" stop-color="#d4d4d4"/><stop offset="1" stop-color="#e4e4e4"/></linearGradient><clipPath id="cd1"><rect x="486.6" y="286.1" width="123.6" height="16.5"/></clipPath></defs>
<rect x="486.6" y="286.1" width="123.6" height="16.5" fill="url(#gd1)"/>
<g clip-path="url(#cd1)" filter="url(#blur1)">
<rect x="495.4" y="292.6" width="20" height="3.4" rx="6" ry="1.7" fill="#888" fill-opacity="0.8"/>
<rect x="525.7" y="291.8" width="20" height="5" rx="6" ry="2.5" fill="#000" fill-opacity="1.0"/>
<rect x="555.2" y="292.4" width="17" height="3.8" rx="5.1" ry="1.9" fill="#555" fill-opacity="0.85"/>
<rect x="583.6" y="292.3" width="19" height="4" rx="5.7" ry="2" fill="#2a2a2a" fill-opacity="0.9"/>
</g>
<rect x="486.6" y="286.1" width="123.6" height="16.5" fill="none" stroke="#3a3030" stroke-width="1.5"/>
<defs><linearGradient id="gd2" x1="0" x2="1" y1="0" y2="0"><stop offset="0" stop-color="#d4d4d4"/><stop offset="0.85" stop-color="#d4d4d4"/><stop offset="1" stop-color="#e4e4e4"/></linearGradient><clipPath id="cd2"><rect x="486.6" y="307.4" width="123.6" height="16.6"/></clipPath></defs>
<rect x="486.6" y="307.4" width="123.6" height="16.6" fill="url(#gd2)"/>
<g clip-path="url(#cd2)" filter="url(#blur1)">
<rect x="491" y="312.6" width="25" height="5.6" rx="7.5" ry="2.8" fill="#222" fill-opacity="0.95"/>
<rect x="522.8" y="312.1" width="25" height="6.4" rx="7.5" ry="3.2" fill="#000" fill-opacity="1.0"/>
<rect x="552.2" y="312.2" width="23" height="6.2" rx="6.9" ry="3.1" fill="#000" fill-opacity="1.0"/>
<rect x="580.6" y="312.4" width="25" height="6.8" rx="7.5" ry="3.4" fill="#111" fill-opacity="1.0"/>
</g>
<rect x="486.6" y="307.4" width="123.6" height="16.6" fill="none" stroke="#3a3030" stroke-width="1.5"/>
<text x="480.5" y="299" font-size="9.8" text-anchor="end">CCBE1</text>
<text x="480.5" y="318.4" font-size="9.8" text-anchor="end">GAPDH</text>
<text x="617.8" y="299.6" font-size="9.8">44 kDa</text>
<text x="617.8" y="319.6" font-size="9.8">36 kDa</text>
<text x="504.2" y="335.5" font-size="8.8" text-anchor="middle">1</text>
<text x="536" y="335.5" font-size="8.8" text-anchor="middle">2</text>
<text x="565" y="335.5" font-size="8.8" text-anchor="middle">3</text>
<text x="592.7" y="335.5" font-size="8.8" text-anchor="middle">4</text>
<text x="20.68" y="590.45" font-size="21.66" font-weight="bold" fill="#000" transform="translate(20.68 590.45) scale(0.738 1) translate(-20.68 -590.45)" stroke="#000" stroke-width="0.6" stroke-linejoin="round">F</text>
<text x="109.2" y="592.6" font-size="12.6" transform="rotate(-30 109.2 592.6)">PIG1</text>
<text x="142" y="592.6" font-size="12.6" transform="rotate(-30 142 592.6)">A375</text>
<text x="174.8" y="592.6" font-size="12.6" transform="rotate(-30 174.8 592.6)">A875</text>
<defs><linearGradient id="gf1" x1="0" x2="1" y1="0" y2="0"><stop offset="0" stop-color="#f0f0f0"/><stop offset="0.85" stop-color="#f0f0f0"/><stop offset="1" stop-color="#f7f7f7"/></linearGradient><clipPath id="cf1"><rect x="97.6" y="599.8" width="103.4" height="25.4"/></clipPath></defs>
<rect x="97.6" y="599.8" width="103.4" height="25.4" fill="url(#gf1)"/>
<g clip-path="url(#cf1)" filter="url(#blur1)">
<rect x="104.9" y="609.8" width="25" height="7.6" rx="7.5" ry="3.8" fill="#000" fill-opacity="1.0"/>
<rect x="137.5" y="610.6" width="22" height="4.8" rx="6.6" ry="2.4" fill="#444" fill-opacity="0.85"/>
<rect x="169.3" y="610.5" width="22" height="4.6" rx="6.6" ry="2.3" fill="#666" fill-opacity="0.75"/>
</g>
<rect x="97.6" y="599.8" width="103.4" height="25.4" fill="none" stroke="#3a3030" stroke-width="1.5"/>
<defs><linearGradient id="gf2" x1="0" x2="1" y1="0" y2="0"><stop offset="0" stop-color="#f0f0f0"/><stop offset="0.85" stop-color="#f0f0f0"/><stop offset="1" stop-color="#f7f7f7"/></linearGradient><clipPath id="cf2"><rect x="97.6" y="634.5" width="103.4" height="25.2"/></clipPath></defs>
<rect x="97.6" y="634.5" width="103.4" height="25.2" fill="url(#gf2)"/>
<g clip-path="url(#cf2)" filter="url(#blur1)">
<rect x="106.6" y="642.4" width="26" height="8" rx="7.8" ry="4" fill="#000" fill-opacity="1.0"/>
<rect x="137.4" y="643.3" width="22" height="6" rx="6.6" ry="3" fill="#000" fill-opacity="1.0"/>
<rect x="164.1" y="642.9" width="27" height="7" rx="8.1" ry="3.5" fill="#000" fill-opacity="1.0"/>
</g>
<rect x="97.6" y="634.5" width="103.4" height="25.2" fill="none" stroke="#3a3030" stroke-width="1.5"/>
<text x="89.9" y="617" font-size="12" text-anchor="end">CCBE1</text>
<text x="89.1" y="652.2" font-size="12" text-anchor="end">GAPDH</text>
<text x="211.8" y="616.6" font-size="12">44 kDa</text>
<text x="211.8" y="652.2" font-size="12">36 kDa</text>
<text x="119.2" y="674.4" font-size="10.4" text-anchor="middle">1</text>
<text x="148" y="674.4" font-size="10.4" text-anchor="middle">2</text>
<text x="176.7" y="674.4" font-size="10.4" text-anchor="middle">3</text>
<line x1="101.5" y1="369" x2="101.5" y2="530.4" stroke="#333" stroke-width="1.3"/>
<line x1="101.6" y1="529.5" x2="229.9" y2="529.5" stroke="#333" stroke-width="1.3"/>
<line x1="93.1" y1="529.5" x2="101.6" y2="529.5" stroke="#333" stroke-width="1.3"/>
<text x="90.8" y="534.4" font-size="13" text-anchor="end">0.0</text>
<line x1="93.1" y1="476.5" x2="101.6" y2="476.5" stroke="#333" stroke-width="1.3"/>
<text x="90.8" y="480.8" font-size="13" text-anchor="end">0.5</text>
<line x1="93.1" y1="422.5" x2="101.6" y2="422.5" stroke="#333" stroke-width="1.3"/>
<text x="90.8" y="427.2" font-size="13" text-anchor="end">1.0</text>
<line x1="93.1" y1="369.5" x2="101.6" y2="369.5" stroke="#333" stroke-width="1.3"/>
<text x="90.8" y="373.6" font-size="13" text-anchor="end">1.5</text>
<line x1="126.5" y1="529.8" x2="126.5" y2="537.3" stroke="#333" stroke-width="1.3"/>
<text x="126.9" y="551.2" font-size="13" text-anchor="middle">PIG1</text>
<line x1="165.5" y1="529.8" x2="165.5" y2="537.3" stroke="#333" stroke-width="1.3"/>
<text x="165.8" y="551.2" font-size="13" text-anchor="middle">A375</text>
<line x1="204.5" y1="529.8" x2="204.5" y2="537.3" stroke="#333" stroke-width="1.3"/>
<text x="204.5" y="551.2" font-size="13" text-anchor="middle">A875</text>
<polyline points="115.4,529.8 115.4,424.4 138.4,424.4 138.4,529.8" fill="none" stroke="#333" stroke-width="2.6"/>
<line x1="121.1" y1="419.5" x2="133.9" y2="419.5" stroke="#333" stroke-width="1.2"/>
<circle cx="121.1" cy="419.1" r="2.7" fill="#333"/>
<circle cx="121.1" cy="425.4" r="2.7" fill="#333"/>
<circle cx="132.7" cy="424.9" r="2.7" fill="#333"/>
<rect x="152.9" y="519.5" width="3" height="10.3" fill="#17be7c"/>
<rect x="175.9" y="518.9" width="3" height="10.9" fill="#17be7c"/>
<rect x="152.9" y="521" width="26" height="4" fill="#17be7c"/>
<rect x="152.9" y="519.5" width="6.2" height="6.2" fill="#17be7c"/>
<rect x="163" y="518.1" width="6" height="4" fill="#17be7c"/>
<rect x="172.7" y="518.9" width="6.2" height="6" fill="#17be7c"/>
<polyline points="193,529.8 193,492 215.8,492 215.8,529.8" fill="none" stroke="#b7e37c" stroke-width="2.6"/>
<circle cx="194.3" cy="490.6" r="2.9" fill="#1ec51e"/>
<circle cx="204.3" cy="488.3" r="2.9" fill="#1ec51e"/>
<circle cx="214.5" cy="489.2" r="2.9" fill="#1ec51e"/>
<circle cx="149.7" cy="529.8" r="1" fill="#222"/>
<circle cx="197.9" cy="529.8" r="1" fill="#222"/>
<polyline points="126.5,407.6 126.5,396.5 165.5,396.5 165.5,512.7" fill="none" stroke="#333" stroke-width="1.1"/>
<path d="M133.16 382.4L133.16 388.6M130.48 383.95L135.84 387.05M135.84 383.95L130.48 387.05M141.92 382.4L141.92 388.6M139.24 383.95L144.6 387.05M144.6 383.95L139.24 387.05M150.68 382.4L150.68 388.6M148 383.95L153.36 387.05M153.36 383.95L148 387.05M159.44 382.4L159.44 388.6M156.76 383.95L162.12 387.05M162.12 383.95L156.76 387.05" stroke="#111" stroke-width="1.45" fill="none"/>
<polyline points="126.5,368.2 126.5,357.5 204.5,357.5 204.5,477.2" fill="none" stroke="#333" stroke-width="1.1"/>
<path d="M152.56 343.2L152.56 349.4M149.88 344.75L155.24 347.85M155.24 344.75L149.88 347.85M161.32 343.2L161.32 349.4M158.64 344.75L164 347.85M164 344.75L158.64 347.85M170.08 343.2L170.08 349.4M167.4 344.75L172.76 347.85M172.76 344.75L167.4 347.85M178.84 343.2L178.84 349.4M176.16 344.75L181.52 347.85M181.52 344.75L176.16 347.85" stroke="#111" stroke-width="1.45" fill="none"/>
<text x="0" y="0" font-size="13" text-anchor="middle" fill="#222" transform="translate(63.2 450.4) rotate(-90)">Relative <tspan font-style="italic">CCBE1</tspan> expression</text>
<text x="21.18" y="349.95" font-size="20.64" font-weight="bold" fill="#000" transform="translate(21.18 349.95) scale(0.7 1) translate(-21.18 -349.95)" stroke="#000" stroke-width="0.6" stroke-linejoin="round">E</text>
<text x="281.06" y="368.13" font-size="21.75" font-weight="bold" fill="#000" transform="translate(281.06 368.13) scale(0.885 1) translate(-281.06 -368.13)" stroke="#000" stroke-width="0.6" stroke-linejoin="round">G</text>
<rect x="358.3" y="358.2" width="18.1" height="327.8" fill="#fbfbfb"/>
<line x1="366.5" y1="358.2" x2="366.5" y2="686" stroke="#ececec" stroke-width="0.8"/>
<line x1="372.5" y1="358.2" x2="372.5" y2="686" stroke="#f0f0f0" stroke-width="0.6"/>
<line x1="353.6" y1="684.5" x2="358.3" y2="684.5" stroke="#888" stroke-width="1.1"/>
<text x="352.4" y="688.4" font-size="10.2" text-anchor="end" fill="#111">0</text>
<line x1="353.6" y1="630.5" x2="358.3" y2="630.5" stroke="#888" stroke-width="1.1"/>
<text x="352.4" y="634" font-size="10.2" text-anchor="end" fill="#111">4</text>
<line x1="353.6" y1="576.5" x2="358.3" y2="576.5" stroke="#888" stroke-width="1.1"/>
<text x="352.4" y="579.6" font-size="10.2" text-anchor="end" fill="#111">8</text>
<line x1="353.6" y1="521.5" x2="358.3" y2="521.5" stroke="#888" stroke-width="1.1"/>
<text x="352.4" y="525.2" font-size="10.2" text-anchor="end" fill="#111">12</text>
<line x1="353.6" y1="467.5" x2="358.3" y2="467.5" stroke="#888" stroke-width="1.1"/>
<text x="352.4" y="470.8" font-size="10.2" text-anchor="end" fill="#111">16</text>
<line x1="353.6" y1="412.5" x2="358.3" y2="412.5" stroke="#888" stroke-width="1.1"/>
<text x="352.4" y="416.4" font-size="10.2" text-anchor="end" fill="#111">20</text>
<line x1="353.6" y1="358.5" x2="358.3" y2="358.5" stroke="#888" stroke-width="1.1"/>
<text x="352.4" y="362" font-size="10.2" text-anchor="end" fill="#111">24</text>
<path d="M366.1 396.48h0M366.1 433.2h0M366.1 550.16h0M366.1 565.12h0M366.1 577.36h0M366.1 581.44h0M366.1 596.4h0M366.1 599.12h0M366.1 616.8h0M366.1 626.32h0M366.1 629.04h0M366.1 635.84h0M366.1 639.92h0M366.1 645.36h0M366.1 650.8h0M366.1 653.52h0M366.1 657.6h0M366.1 658.96h0M366.1 660.32h0M366.1 661.68h0M366.1 663.04h0M366.1 664.4h0M366.1 665.76h0M366.1 667.12h0M366.1 668.48h0M366.1 669.84h0M366.1 671.2h0" stroke="#ff6a6a" stroke-width="1.2" stroke-linecap="round" fill="none"/>
<text x="362.4" y="367" font-size="6.5" text-anchor="middle" fill="#ff7070">2</text>
<polyline points="358.9,684.5 359.02,684.5 359.14,684.5 359.27,684.5 359.39,684.53 359.51,684.53 359.63,684.53 359.75,684.53 359.88,684.53 360,684.53 360.12,684.53 360.24,684.53 360.36,684.53 360.49,684.53 360.61,684.52 360.73,684.52 360.85,684.52 360.97,684.52 361.1,684.51 361.22,684.51 361.34,684.5 361.46,684.49 361.58,684.48 361.71,684.47 361.83,684.45 361.95,684.43 362.07,684.4 362.19,684.37 362.32,684.33 362.44,684.28 362.56,684.22 362.68,684.16 362.81,684.08 362.93,683.99 363.05,683.88 363.17,683.76 363.29,683.62 363.42,683.45 363.54,683.27 363.66,683.05 363.78,682.81 363.9,682.54 364.03,682.23 364.15,681.88 364.27,681.49 364.39,681.05 364.51,680.56 364.64,680.01 364.76,679.4 364.88,678.73 365,677.98 365.12,677.15 365.25,676.24 365.37,675.24 365.49,674.14 365.61,672.93 365.73,671.6 365.86,670.15 365.98,668.57 366.1,666.85" fill="none" stroke="#ff6a6a" stroke-width="1.4"/>
<line x1="366.5" y1="668.48" x2="366.5" y2="680.72" stroke="#ff6a6a" stroke-width="1.2"/>
<polyline points="367.8,684.53 374.3,599.12" fill="none" stroke="#11a84a" stroke-width="1.6"/>
<path d="M374.6 449.52h0M374.6 478.08h0M374.6 517.52h0M374.6 521.6h0M374.6 528.4h0M374.6 532.48h0M374.6 535.2h0M374.6 539.28h0M374.6 543.36h0M374.6 547.44h0M374.6 551.52h0M374.6 554.24h0M374.6 556.96h0M374.6 559.68h0M374.6 561.04h0M374.6 563.76h0M374.6 565.12h0M374.6 567.84h0M374.6 570.56h0M374.6 573.28h0M374.6 576h0M374.6 577.36h0M374.6 578.72h0M374.6 581.44h0M374.6 582.8h0M374.6 584.16h0M374.6 586.88h0M374.6 588.24h0M374.6 589.6h0M374.6 590.96h0M374.6 592.32h0M374.6 593.68h0M374.6 595.04h0M374.6 596.4h0M374.6 597.76h0M374.6 599.12h0" stroke="#11a84a" stroke-width="1.5" stroke-linecap="round" fill="none"/>
<line x1="369" y1="655.5" x2="374.8" y2="655.5" stroke="#111" stroke-width="1.4"/>
<line x1="359.9" y1="683.5" x2="365.3" y2="683.5" stroke="#111" stroke-width="1.4"/>
<rect x="358.3" y="358.2" width="18.1" height="327.8" fill="none" stroke="#777" stroke-width="1.3"/>
<text x="0" y="0" font-size="16.8" text-anchor="middle" transform="translate(325.4 532.6) rotate(-90)">Transcripts Per Million (TPM)</text>
<text x="366" y="356.2" font-size="9.6" font-weight="bold" fill="#1aac4a" transform="rotate(-50 366 356.2)">SKCM</text>
<text x="365.6" y="691.6" font-size="9.2" text-anchor="end" font-weight="bold" fill="#111" transform="rotate(-50 365.6 691.6)">T (n=459)</text>
<text x="378.4" y="693.4" font-size="9.2" text-anchor="end" font-weight="bold" fill="#111" transform="rotate(-50 378.4 693.4)">N (n=558)</text>
<text x="427.45" y="368.15" font-size="21.08" font-weight="bold" fill="#000" transform="translate(427.45 368.15) scale(0.993 1) translate(-427.45 -368.15)" stroke="#000" stroke-width="0.6" stroke-linejoin="round">H</text>
<line x1="473.6" y1="656.5" x2="479.3" y2="656.5" stroke="#222" stroke-width="1.1"/>
<text x="0" y="0" font-size="11.2" text-anchor="middle" fill="#111" transform="translate(465.4 656.1) rotate(-90)">0</text>
<line x1="473.6" y1="611.5" x2="479.3" y2="611.5" stroke="#222" stroke-width="1.1"/>
<text x="0" y="0" font-size="11.2" text-anchor="middle" fill="#111" transform="translate(465.4 611.42) rotate(-90)">1</text>
<line x1="473.6" y1="566.5" x2="479.3" y2="566.5" stroke="#222" stroke-width="1.1"/>
<text x="0" y="0" font-size="11.2" text-anchor="middle" fill="#111" transform="translate(465.4 566.74) rotate(-90)">2</text>
<line x1="473.6" y1="522.5" x2="479.3" y2="522.5" stroke="#222" stroke-width="1.1"/>
<text x="0" y="0" font-size="11.2" text-anchor="middle" fill="#111" transform="translate(465.4 522.06) rotate(-90)">3</text>
<line x1="473.6" y1="477.5" x2="479.3" y2="477.5" stroke="#222" stroke-width="1.1"/>
<text x="0" y="0" font-size="11.2" text-anchor="middle" fill="#111" transform="translate(465.4 477.38) rotate(-90)">4</text>
<line x1="473.6" y1="432.5" x2="479.3" y2="432.5" stroke="#222" stroke-width="1.1"/>
<text x="0" y="0" font-size="11.2" text-anchor="middle" fill="#111" transform="translate(465.4 432.7) rotate(-90)">5</text>
<line x1="473.6" y1="388.5" x2="479.3" y2="388.5" stroke="#222" stroke-width="1.1"/>
<text x="0" y="0" font-size="11.2" text-anchor="middle" fill="#111" transform="translate(465.4 388.02) rotate(-90)">6</text>
<rect x="519.4" y="643.6" width="43.2" height="10.8" fill="#f46a6a" stroke="#444" stroke-width="0.9"/>
<line x1="519.4" y1="650.7" x2="562.6" y2="650.7" stroke="#111" stroke-width="2.2"/>
<rect x="574.1" y="558.6" width="44.1" height="43.6" fill="#7f7f7f" stroke="#444" stroke-width="0.9"/>
<line x1="574.1" y1="581.7" x2="618.2" y2="581.7" stroke="#111" stroke-width="2.2"/>
<line x1="540.5" y1="629.2" x2="540.5" y2="643.6" stroke="#666" stroke-width="0.8" stroke-dasharray="2 1.5"/>
<line x1="529.8" y1="629.5" x2="551.9" y2="629.5" stroke="#444" stroke-width="1"/>
<line x1="596.5" y1="494.7" x2="596.5" y2="558.6" stroke="#666" stroke-width="0.8" stroke-dasharray="2 1.5"/>
<line x1="585" y1="494.5" x2="606.9" y2="494.5" stroke="#444" stroke-width="1"/>
<line x1="596.5" y1="602.2" x2="596.5" y2="654.2" stroke="#666" stroke-width="0.8" stroke-dasharray="2 1.5"/>
<line x1="585" y1="654.5" x2="606.9" y2="654.5" stroke="#444" stroke-width="1"/>
<path d="M543.34 638.91h0M544.62 646.12h0M535.65 629.07h0M539.9 644.73h0M538.29 634.68h0M540.51 648.5h0M545.37 654.8h0M541.62 654.45h0M543.83 646.49h0M544.08 633.92h0M538.23 646.42h0M542.32 633.86h0M539.4 648.53h0M540.59 652.49h0M541.27 644.51h0M542.9 643.6h0M536.92 652.56h0M544.96 655.31h0M536.83 648.86h0M538.66 643.91h0M545.09 647.55h0M546.72 645.57h0M539.3 656.09h0M546.32 576.01h0M535.35 654.6h0M546.36 647.28h0M537.31 655.83h0M535.32 656.02h0M544.04 650.98h0M536.84 656.07h0M543.93 652.83h0M534.98 650.54h0M536.39 651.76h0M539.19 644.88h0M535.91 636.12h0M540.55 652.97h0M539.05 621.1h0M543.76 645.11h0M540.81 627.55h0M546.48 648.58h0M545.02 651.82h0M536.95 647.07h0M545.91 647.79h0M545.64 655.18h0M541.68 644.87h0M541.22 597.73h0M536.94 645.79h0M538.75 651.46h0M537.54 644.57h0M537.25 630.05h0M542.27 643.55h0M538.79 648.4h0M544.11 640.75h0M541.78 654.76h0M544.83 641.64h0M535.95 652.37h0M545.07 647.56h0M540.99 644.66h0M542.49 641.18h0M537.76 653.83h0M543.25 654.13h0M539.77 651.41h0M543.56 614.98h0M541.91 653.16h0M536.58 649h0M538.51 654.84h0M543.92 648.04h0M535.09 645.74h0M542.48 648.2h0M541.44 651.54h0M543.48 622.54h0M538.85 648.86h0M540.62 627.28h0M540.62 635.3h0M543.89 633.52h0M535.78 568.05h0M541.02 641.06h0M538.02 650.21h0M541.97 645.63h0M538.01 646.59h0M537.37 650.38h0M537.68 631.98h0M545.64 566.79h0M539.26 640.21h0M545.46 636.07h0M543.72 621.35h0M538.13 655.75h0M541.55 648.96h0M535 654.69h0M546.09 655.15h0M542.47 650.15h0M536.25 649.4h0M541.13 650.89h0M540.84 655.85h0M542.95 643.1h0M538.37 651.39h0M545.82 646.15h0M542.37 645.43h0M535.77 654.32h0M544.72 651.16h0M545.51 650.93h0M538.55 591.8h0M543.44 643.19h0M545.22 648.13h0M545.48 638.95h0M535.74 643.26h0M544.94 648.3h0M537.88 646.11h0M544.52 647.48h0M543.14 643.79h0M540.49 652.41h0M545.72 625.92h0M544.54 649.57h0M546.83 606.26h0M546.4 645.43h0M541.78 650.55h0M543.72 632.19h0M542.95 642.83h0M539.7 623.37h0M540.89 636.5h0M540.99 620.58h0M537.49 654.08h0M538.03 655.43h0M545.03 644.38h0M545.05 644.53h0M543.27 649.66h0M543.16 654.65h0M541.02 643.74h0M541.78 635.83h0M542.9 644.56h0M534.99 584.85h0M540.22 644.41h0M546.54 652.88h0M537.37 649.23h0M540.51 649.93h0M535.83 654.21h0M537.96 635.32h0M544.79 644.93h0M535.29 595.03h0M544.49 608.34h0M544.48 650.07h0M545.32 646.13h0M537.99 627.29h0M546.08 643.13h0M539.36 621.26h0M540.3 649.98h0M546.31 645.57h0M541.43 652.35h0M543.07 610.9h0M536.22 654.83h0M534.96 637.36h0M538.08 625.9h0M536.17 625.83h0M544.79 654.94h0M537.9 650.89h0M546.39 595.57h0M543.04 644.32h0M537.2 648.87h0M543.43 648.33h0M538.72 651.71h0M541.22 632.57h0M535.81 654.68h0M544.89 652.57h0M544.35 643.12h0M541.87 572.8h0M543.19 645.49h0M538.98 636.48h0M536.43 584.66h0M538.8 653.21h0M543.78 647.92h0M541.66 644.6h0M536.52 655.97h0M537.79 599.71h0M540.6 644.48h0M535.07 645.47h0M535.44 618.22h0M540.3 656.02h0M536.51 647.87h0M545.57 635.69h0M536.44 653.12h0M543.89 655.03h0M544.44 652.74h0M538.69 635.16h0M541.4 643.18h0M546.8 652.9h0M542.31 644.63h0M539.55 650.28h0M546.61 642.87h0M538.02 653.67h0M546.36 651.79h0M538.62 646.54h0M539.96 649.3h0M538.69 648.07h0M542.72 636.58h0M545.49 652.23h0M543.17 649.26h0M537.08 653.11h0M546.78 636h0M543.57 652.7h0M540.98 628.81h0M545.1 625.47h0M536.19 647.63h0M542.08 644.62h0M544.33 638.91h0M544.22 646.95h0M542.98 651.21h0M535.65 632.76h0M540.64 654.72h0M538.13 652.66h0M542.2 647.52h0M539.66 643.71h0M540.37 643.79h0M541.35 649.16h0M541.96 649.88h0M545.58 620.33h0M538.29 651.36h0M538.2 647.74h0M537.11 649.72h0M536.25 610.03h0M545.09 655.69h0M545.93 634.26h0M536.41 649.39h0M539.22 650.05h0M545.75 634.17h0M545.27 654.43h0M546.64 618.74h0M546.81 646.63h0M538.54 602.44h0M535.7 645.28h0M537.9 649.89h0M540.93 638.83h0M535.08 644.5h0M537.94 644.8h0M540.58 648.63h0M543.08 583.82h0M536.76 627.8h0M536.38 653.66h0M538.86 654.1h0M535.99 655.48h0M536.37 647.44h0M536.14 609.7h0M544.5 644.45h0M545.45 643.55h0M535.41 655.01h0M544.55 641.83h0M545.02 587.33h0M542.71 620.2h0M538.5 647.22h0M544.74 636.71h0M535.88 650.47h0M535.46 640.85h0M546.36 649.61h0M537.56 655.21h0M545.88 643.08h0M543.95 645.75h0M535.46 654.95h0M536.03 644.44h0M542.66 644.07h0M536.65 633.83h0M542.89 647.19h0M542.97 653.65h0M537.68 642.63h0M540.62 644.69h0M537.44 649.25h0M545.36 636.13h0M542.47 648.7h0M543.19 651.39h0M542.36 642.75h0M535.63 615.07h0M545.53 644.64h0M544.25 645.31h0M541.08 647.99h0M541.99 640.15h0M540.81 635.23h0M543.97 629.92h0M541.3 650.6h0M538.23 655.07h0M541.1 613.78h0M537.46 648.79h0M534.96 628.32h0M541.15 646.9h0M545.35 649.43h0M543.53 653.11h0M537.41 638.84h0M541 598.17h0M541.9 599.06h0M541.85 654.7h0M540.42 655.1h0M541.01 643.27h0M543.16 638.43h0M545.47 643.61h0M541.09 644.77h0M544.31 643.7h0M543.06 582.55h0M536.33 650.4h0M538.01 649.04h0M538.66 599.06h0M539.15 655.98h0M540.79 633.36h0M538.43 655.1h0M546.87 644.05h0M543.71 649.76h0M539.35 602.71h0M543.3 655.28h0M546 646.2h0M536.82 645.92h0M542.45 574.51h0M546.41 628h0M539.4 635.14h0M545.43 630.52h0M544.54 647.13h0M538.74 651.56h0M536.63 644.59h0M544.58 639.73h0M539.89 608.78h0M539.1 651.71h0M540.47 643.37h0M543.64 650.9h0M545.63 635.41h0M545.9 650.2h0M544.1 643.27h0M537.01 649.06h0M539.33 654.21h0M534.98 649.31h0M537.31 637.21h0M538.98 643.57h0M537.03 644.25h0M540.61 647.39h0M536.48 652.61h0M542.74 645.97h0M539.83 650.49h0M537.86 649.12h0M543.13 643.32h0M538.84 654.32h0M535.19 651.39h0M544.96 644.22h0M543.95 638.42h0M545.44 624.51h0M538.43 651.84h0M538.07 652.33h0M543.26 637.57h0M536.66 639.72h0M546.5 648.63h0M542.74 633.27h0M541.48 654.95h0M535.52 654.13h0M538.3 653.64h0M539.98 638.84h0M546.67 625.72h0M536.64 653.65h0M542 646.96h0M535.83 652.73h0M546.55 632.86h0M543.87 647.95h0M544.65 650.19h0M543.89 651.21h0M537.06 623.03h0M537.8 654.92h0M535.37 629.48h0M541.52 651.11h0M535.87 652.72h0M537.16 654.38h0M536.99 635.83h0M545.94 568.42h0M544.38 590.53h0M538.33 644.49h0M546.55 643.02h0M536.81 616.47h0M536.59 650.25h0M539.48 654.15h0M544.57 652.42h0M536.08 644.43h0M544.37 644.36h0M541.43 648.37h0M544.48 644.96h0M538.94 647.42h0M535.41 651.74h0M536.09 649.58h0M543.58 645.13h0M540.98 653.62h0M544.07 645.34h0M537.29 647.6h0M538.25 655h0M537.44 636.05h0M545.11 649.76h0M543.34 622.64h0M536.76 650.47h0M543.61 655.52h0M535.37 617.68h0M540.5 652.29h0M537.99 643.58h0M544.08 638.17h0M543.52 648.69h0M543.11 655.65h0M537.27 642.02h0M535.41 655.87h0M542.58 653.9h0M543.24 647.89h0M535.01 581.93h0M544.96 655.92h0M545.67 589.58h0M539.24 644.18h0M541.13 636.42h0M542.71 650.66h0M546.01 648.31h0M542.7 646.69h0M541.09 646.85h0M544.13 646.56h0M540.78 598.22h0M535.29 637.83h0M541.47 605.91h0M539.87 634.21h0M538.92 643.93h0M539.63 568.98h0M537.55 645.08h0M538.64 629.92h0M543.86 636.81h0M545.53 645.44h0M540.38 648.87h0M545.05 628.86h0M536.41 649.87h0M541.09 644.81h0M543.83 644.28h0M544.27 654.3h0M539.55 632.82h0M536.92 648.11h0M546.43 643.39h0M542.21 648.87h0M542.74 650.58h0M539.05 642.94h0M536.26 628.33h0M541.74 635.23h0M539.76 654.79h0M545.58 648.87h0M542.86 602.34h0M543.97 646.06h0M541.74 636.35h0M543.93 641.59h0M536.51 649.21h0M546.86 636.91h0M541.87 644.48h0M542.07 650.48h0M537.18 649.63h0M535.99 638.47h0M543.36 636.11h0M543.62 643.2h0M542.9 648.78h0M537.96 602.18h0M540.74 653.35h0M544.12 644.69h0M542.59 655.54h0M545.82 649.25h0M535.97 651.99h0M544.2 621.41h0M535.06 648.09h0M542.4 649.13h0M541.31 654.91h0M535.79 651.95h0M539.93 633.92h0M542.92 616.77h0M545.31 653.61h0M535.83 392.49h0M541.02 413.93h0M544.44 455.93h0M536.3 464.42h0M545.61 501.95h0M546.17 510h0M539.01 516.7h0M537.41 526.53h0M536.65 528.76h0M537.53 540.83h0M539.93 549.76h0M543.39 555.57h0M546.14 562.27h0M541.6 566.74h0M546.34 577.91h0M540.02 580.14h0M542.79 589.08h0" stroke="#000" stroke-width="1.7" stroke-linecap="round" fill="none"/>
<path d="M599.01 579.89h0M599.09 549.39h0M594.61 581.01h0M590.48 565.03h0M600.21 578.73h0M596.72 575.63h0M597.06 595.01h0M598.33 592.45h0M596.68 545.71h0M600.98 588.5h0M590.21 582.23h0M601.72 545.95h0M597.5 551.83h0M594.99 592.08h0M600.99 573.51h0M600.85 610.1h0M597.26 577.1h0M590.22 571.52h0M597.58 581.06h0M595.05 575.95h0M596.99 570.2h0M600.06 533h0M591.68 605.49h0M600.23 552.19h0M593.83 556.54h0M593.12 633.49h0M590.55 515.94h0M591.38 592.07h0M593.31 620.9h0M596.45 582.38h0M601.38 548.52h0M592.16 610.26h0M593.57 585.98h0M594.58 593.18h0M597.78 586.22h0M594.35 582.04h0M598.14 538.28h0M591.9 631.85h0M590.63 582.94h0M597.06 562.1h0M598.79 626.9h0M591.71 616.23h0M590.68 548.51h0M598.13 567.93h0M590.89 541.03h0M601.21 561.27h0M598.39 579.05h0M592.03 568.2h0M595.01 555.81h0M590.77 581.5h0M591.15 587.25h0M594.32 571.54h0M600.63 590.38h0M601.02 510.49h0M599.14 603.77h0M597.75 624.82h0M597.11 619.4h0M596.23 550.18h0M597.97 593.05h0M596.06 576.04h0M594.87 587.4h0M600.14 572.58h0M593.71 624.13h0M594.97 578.17h0M598.25 598.07h0M601.67 549.02h0M594.24 562.55h0M595.3 617.4h0M594.92 609.75h0M592.62 564.08h0M594.36 545.52h0M599.57 558.27h0M592.35 585.56h0M595.83 548.23h0M593.51 546.59h0M597.04 610.47h0M599.38 569.45h0M591.49 596.4h0M595.94 577.86h0M592.35 559.08h0M597.86 569.91h0M598.23 550.96h0M592.75 523.27h0M592.87 621.22h0M593.74 533.8h0M594.04 640.92h0M600.81 606.09h0M600.59 542.9h0M599.6 610h0M594.83 602.57h0M595.59 573.81h0M592.51 605.19h0M595.62 591.34h0M601.51 576.79h0M591.2 588.95h0M594.83 599.1h0M592.44 601.97h0M600.24 614.34h0M593.72 562.76h0M595.95 587.47h0M590.72 591.69h0M598.39 507.87h0M596.27 601.12h0M599.71 619.64h0M598.76 587.43h0M599.03 563.67h0M593.25 530.31h0M593.11 632.31h0M597.27 576.34h0M590.69 543.59h0M601.34 601.06h0M598.75 594.01h0M596.02 617.11h0M594.44 558.14h0M591.03 556.33h0M596.75 563.32h0M599.38 573.7h0M591.51 551.54h0M591.29 584.66h0M598.33 559.59h0M595.74 556.66h0M599.6 542.43h0M595.04 565.75h0M601.89 578.15h0M600.57 559.96h0M593.96 626.18h0M596.54 633.51h0M597.14 533.07h0M595.51 576.93h0M599.91 611.58h0M598.56 598.34h0M599.92 585.04h0M593.13 578.88h0M596.16 603.11h0M596.62 551.36h0M597.1 630.79h0M590.29 497.45h0M599.85 612.56h0M595.48 531.48h0M592.01 560.96h0M600.36 631.22h0M596.78 616.73h0M598.98 579.22h0M598.98 572.61h0M597.57 593.68h0M601.07 580.26h0M590.77 576.19h0M594.1 614.38h0M592.07 579.23h0M597.73 513.52h0M592.73 600.32h0M590.44 610.57h0M591.74 561.22h0M592.19 540.89h0M596.58 549.89h0M595.56 599.32h0M595.67 583.24h0M590.25 574.63h0M596.44 587.3h0M593.14 568.82h0M591.2 548.66h0M590.78 564.44h0M591.91 581.35h0M594.91 586.61h0M592.1 527.56h0M595.66 617.07h0M592.06 521.14h0M598.92 558.8h0M600.61 578.39h0M593.98 602.69h0M590.96 526.17h0M601.68 544.61h0M591.11 553.8h0M597.9 518.79h0M599.18 634.72h0M595.9 577.66h0M600.79 590.23h0M591.87 602.24h0M598.75 578.78h0M600.98 564.7h0M600.86 565.32h0M600.29 584.75h0M595.34 620.61h0M596.24 564.03h0M600.28 562.83h0M594.66 517.56h0M593.16 553.09h0M590.48 580.14h0M592.55 615.38h0M591.79 499.54h0M601.25 601.25h0M593.81 574.78h0M594.33 558.62h0M601.79 565.64h0M598.39 541.17h0M595.31 611.41h0M591.37 601.68h0M594.48 575.44h0M593.59 617.93h0M601.48 598.89h0M595.15 539.56h0M601.77 571.81h0M593.34 584.09h0M590.67 597.63h0M600.89 579.59h0M591 581.62h0M599.56 613.32h0M597.24 557.08h0M593.51 619.39h0M600.11 542.35h0M595.25 591.18h0M601.9 529.7h0M596.8 627.56h0M601.43 588.49h0M601.27 568.95h0M594.61 571.33h0M598.4 586.26h0M598.84 518.37h0M597.96 613.81h0M590.38 620.12h0M598.36 643.98h0M599.24 620.33h0M592.42 612.42h0M591.24 598.79h0M590.91 593.26h0M596.63 536.97h0M591.37 557.24h0M600.27 595.99h0M595.08 576.33h0M602.05 603.25h0M598.91 589.68h0M595.24 585.84h0M592.29 519.13h0M595.22 618.19h0M597.39 615.18h0M600.44 567.75h0M600.8 610.75h0M593.99 611.86h0M590.38 571.3h0M598.08 614.01h0M598.35 539.85h0M597.87 561.93h0M599.74 598.01h0M599.85 586.13h0M597.61 601.58h0M599.96 534.9h0M591.6 578.75h0M601.45 576.56h0M598.1 607.85h0M591.23 532.65h0M592.12 582.56h0M597.8 603.19h0M593.77 534.72h0M601.35 571.76h0M593.45 594.93h0M595.93 553.46h0M596.14 598.1h0M601.38 585.53h0M593.75 551.79h0M600.81 617.63h0M598.78 587.68h0M596.93 583.98h0M601.45 570.75h0M600.7 613.92h0M599.09 616.44h0M596.65 591.34h0M590.63 609.78h0M592.75 577.48h0M597.91 585.46h0M591.5 577.02h0M597.82 576.8h0M594.26 615.87h0M594.75 593.44h0M599.97 575.82h0M600.19 544.31h0M599.07 572.79h0M595.46 580.85h0M596.53 519.52h0M601.93 595.84h0M601.21 540.82h0M597.39 562.3h0M591.05 618.77h0M600.92 582.98h0M590.65 557.6h0M591.51 617.69h0M598.01 538.2h0M592.46 597.71h0M599.14 568.02h0M598.34 588.72h0M592.08 569.34h0M601 604.99h0M602.08 533.76h0M597.98 606.72h0M601.89 531.19h0M599.71 591.74h0M595.78 609.68h0M599.99 557.6h0M601.36 578.9h0M598.45 591.32h0M591.1 619.22h0M594.57 590.64h0M598.55 586.6h0M594.49 608.28h0M592.1 620h0M595.57 611.71h0M591.79 614.86h0M595.79 549.91h0M591.29 557.07h0M598.82 597.67h0M592.66 615.51h0M601.33 586.76h0M591.39 568.3h0M597.68 601.5h0M597.82 587.86h0M592.49 551.48h0M597.63 591.18h0M596.69 595.42h0M597.49 545.44h0M592.32 585.88h0M595.82 584.87h0M600.13 612.13h0M597.52 551.49h0M593.02 575.92h0M594.11 592.95h0M600.65 586.78h0M590.74 540.95h0M595.84 586.1h0M596.26 588.14h0M595.26 579.17h0M590.13 580.44h0M591.38 553.49h0M600.2 592.13h0M595.56 596.21h0M593.6 605.07h0M595.52 578.77h0M590.73 623.63h0M591.08 599.39h0M600.05 631.32h0M599.22 586.71h0M592.46 590.14h0M593.91 589.89h0M591.02 600.37h0M593.91 610.14h0M596.35 576.97h0M599.13 588.2h0M596.17 568.12h0M600.27 598.81h0M602.08 582.91h0M596.91 583.62h0M590.62 566.06h0M591.71 610.47h0M598.17 615.25h0M591.66 571.02h0M600.89 596.31h0M590.75 565.25h0M590.76 596.19h0M602.05 620.93h0M594.98 558.31h0M596.76 572.94h0M597.25 558.51h0M591.52 591.35h0M594.13 591.8h0M594.53 542.6h0M598.95 632.45h0M599.49 528.11h0M598.44 565.16h0M592.27 582.77h0M595.64 578.12h0M601.09 562.66h0M592.19 604.39h0M594.29 572.59h0M597.49 609.98h0M602.04 637.29h0M590.4 574.73h0M598.39 578h0M595.64 561.1h0M596.45 564.09h0M600.19 559.5h0M591.25 556.96h0M597.28 613.09h0M593.9 544h0M599.16 499.12h0M598.67 598.28h0M595.09 619.33h0M591.92 560.15h0M599.28 552.91h0M598.51 550.23h0M596.86 534.01h0M599.05 623.26h0M601.49 569.38h0M593.03 566.92h0M598.38 542.72h0M599.78 608.21h0M593.29 580.15h0M600.94 592.35h0M593.86 585.84h0M601.57 585.47h0M597.09 585.52h0M601.77 634.91h0M600.71 582.04h0M599.48 578.97h0M594.55 592.68h0M595.6 553.36h0M597.15 599.12h0M599.76 560.8h0M595.1 550.71h0M600.89 586.46h0M592.7 562.54h0M596.35 578.36h0M591.84 605.55h0M592.15 571.75h0M593.59 594.65h0M590.67 572.96h0M596.94 562.2h0M597.54 605.32h0M594.85 629.31h0M599.67 555.32h0M596.65 530.92h0M598.3 590.32h0M591.12 597.01h0M594.06 635.69h0M590.35 515.3h0M592.02 617.63h0M600.3 610.54h0M591.73 586.97h0M597.25 543.9h0M594.63 579.4h0M598.17 581.53h0M600.56 580.4h0M600.06 555.02h0M601.68 582.16h0M601.69 576.11h0M594.88 583.28h0M601.96 614.88h0M599.25 540.03h0M593.44 602.14h0M594.04 621.26h0M596.38 594.3h0M600.25 580.05h0M591.29 555.9h0M600.79 625.89h0M598.14 619.7h0M597.22 575.6h0M594.98 569.25h0M594.68 614.51h0M594.97 615.6h0M598.69 575.69h0M595.41 585.35h0M598.67 630.4h0M600.61 607.75h0M591.14 535.74h0M590.33 613.31h0M601.39 549.01h0M592.42 627.75h0M599.87 535.72h0M594.96 532.03h0M592.8 600.38h0M590.25 601.79h0M595.24 561.84h0M597.3 618.86h0M590.75 564.22h0M590.24 543.74h0M593.55 573.01h0M600.67 571.07h0M599.1 585.85h0M593.18 550.33h0M594.94 606.03h0M595.1 532.36h0M598.6 581.76h0M593.52 590.93h0M594.36 630.88h0M596.14 594.43h0M592.95 573.8h0M595.25 542.98h0M599.07 630.27h0M596.16 584.85h0M590.77 601.98h0M594.29 617.56h0M596.94 580.9h0M592.88 604.18h0M594.75 554.47h0M596.81 552.53h0M594.47 558.54h0M592.29 515.34h0M600.6 590.87h0M590.89 558.06h0M600.98 534.18h0M591.24 611.11h0M596.75 553.2h0M596.64 627.03h0M595.01 600.28h0M597.61 595.37h0M600.7 537.61h0M593.93 617.27h0M590.82 542.27h0M592.5 624.63h0M600.64 579.28h0M597.29 556.4h0M599.15 581.58h0M594.77 516.48h0M593.99 579.1h0M598.38 624.3h0M596.92 587.85h0M601.06 550.08h0M592.03 636.93h0M594.22 583.17h0M598.4 522.08h0M600.98 589.4h0M595.7 637.8h0M599.55 601.67h0M591.41 556.96h0M597.78 599.62h0M594.05 560.36h0M598.42 631.2h0M593.67 550.07h0M592.34 496.07h0M593.33 547.01h0M598.78 571.22h0M598.65 618.68h0M601.05 597.1h0M595.07 601.02h0M590.88 575.36h0M599.8 642.63h0M593.18 607.38h0M598.72 556.89h0M595.97 576.55h0M595.43 558.39h0M590.47 554.98h0M592.82 615.94h0M599.08 622.11h0M595.62 566.88h0M600.68 580h0M599.78 578.63h0M596.51 605.84h0M601.9 549.97h0M590.13 565.88h0M594.91 546.24h0M596.5 591.82h0M590.75 559.92h0M600.55 582.83h0M591.9 468.44h0M597.06 476.49h0M593.35 489.89h0M594.68 493.02h0M595.69 495.25h0M593.57 640.46h0M592.16 647.16h0M598.11 648.06h0M597.61 650.74h0M591.07 653.87h0" stroke="#000" stroke-width="1.7" stroke-linecap="round" fill="none"/>
<line x1="519.4" y1="656.8" x2="562.6" y2="656.8" stroke="#000" stroke-width="2.4"/>
<line x1="574.1" y1="656.8" x2="618.2" y2="656.8" stroke="#000" stroke-width="2.4"/>
<rect x="479.3" y="369.3" width="177.8" height="298.2" fill="none" stroke="#222" stroke-width="1.2"/>
<line x1="567.5" y1="667.5" x2="567.5" y2="672.6" stroke="#222" stroke-width="1.1"/>
<polyline points="540.5,386 540.5,379.5 562.9,379.5" fill="none" stroke="#888" stroke-width="1.2"/>
<polyline points="574,379.5 596.5,379.5 596.5,461.7" fill="none" stroke="#888" stroke-width="1.2"/>
<text x="568.4" y="390.5" font-size="19" text-anchor="middle" font-weight="bold" fill="#ff1a1a">*</text>
<text x="570.7" y="689" font-size="12" text-anchor="middle" fill="#111">SKCM</text>
<text x="571" y="703.6" font-size="12" text-anchor="middle" fill="#111">(num(T)=461; num(N)=558)</text>
<text x="22.52" y="720.15" font-size="20.93" font-weight="bold" fill="#000" transform="translate(22.52 720.15) scale(0.664 1) translate(-22.52 -720.15)" stroke="#000" stroke-width="0.6" stroke-linejoin="round">I</text>
<line x1="43.3" y1="738.5" x2="244" y2="738.5" stroke="#111" stroke-width="1.3"/>
<rect x="137.9" y="726.3" width="77.1" height="24.5" fill="#6f9ee9"/>
<text x="175.6" y="745.2" font-size="16.2" text-anchor="middle" font-style="italic" fill="#111">CCBE1</text>
<text x="50.3" y="733.8" font-size="12.1" fill="#111">Chr18 (q21.32)</text>
<text x="59" y="761.8" font-size="12" fill="#111">primer site</text>
<polyline points="215.5,726.3 215.5,717.5 203.5,717.5" fill="none" stroke="#111" stroke-width="1.1"/>
<path d="M202.3 717.6 L206.3 715.3 L206.3 719.9 Z" fill="#111"/>
<line x1="216.7" y1="754.5" x2="229" y2="754.5" stroke="#111" stroke-width="1.1"/>
<text x="222.8" y="766.6" font-size="12" text-anchor="middle" fill="#111">d</text>
<text x="19.92" y="813.04" font-size="21.2" font-weight="bold" fill="#000" transform="translate(19.92 813.04) scale(0.708 1) translate(-19.92 -813.04)" stroke="#000" stroke-width="0.6" stroke-linejoin="round">J</text>
<line x1="65.5" y1="839" x2="65.5" y2="950.5" stroke="#333" stroke-width="1.3"/>
<line x1="65.5" y1="949.5" x2="196.9" y2="949.5" stroke="#333" stroke-width="1.3"/>
<line x1="58.2" y1="949.5" x2="65.5" y2="949.5" stroke="#333" stroke-width="1.3"/>
<text x="56.2" y="954.3" font-size="12.6" text-anchor="end">0.0</text>
<line x1="58.2" y1="927.5" x2="65.5" y2="927.5" stroke="#333" stroke-width="1.3"/>
<text x="56.2" y="932.24" font-size="12.6" text-anchor="end">0.1</text>
<line x1="58.2" y1="905.5" x2="65.5" y2="905.5" stroke="#333" stroke-width="1.3"/>
<text x="56.2" y="910.18" font-size="12.6" text-anchor="end">0.2</text>
<line x1="58.2" y1="883.5" x2="65.5" y2="883.5" stroke="#333" stroke-width="1.3"/>
<text x="56.2" y="888.12" font-size="12.6" text-anchor="end">0.3</text>
<line x1="58.2" y1="861.5" x2="65.5" y2="861.5" stroke="#333" stroke-width="1.3"/>
<text x="56.2" y="866.06" font-size="12.6" text-anchor="end">0.4</text>
<line x1="58.2" y1="839.5" x2="65.5" y2="839.5" stroke="#333" stroke-width="1.3"/>
<text x="56.2" y="844" font-size="12.6" text-anchor="end">0.5</text>
<line x1="76.5" y1="949.9" x2="76.5" y2="957.4" stroke="#333" stroke-width="1.3"/>
<rect x="69.2" y="873.79" width="6.6" height="76.11" fill="#383838"/>
<line x1="72.5" y1="853.94" x2="72.5" y2="873.79" stroke="#9a9a9a" stroke-width="1"/>
<line x1="70.3" y1="853.5" x2="74.7" y2="853.5" stroke="#9a9a9a" stroke-width="1"/>
<circle cx="72.5" cy="883.72" r="1.0" fill="#bbb"/>
<circle cx="72.5" cy="848.42" r="1.0" fill="#bbb"/>
<rect x="78.4" y="936.22" width="7" height="13.68" fill="#d4d4d4"/>
<line x1="81.5" y1="931.15" x2="81.5" y2="936.22" stroke="#555" stroke-width="1"/>
<line x1="79.7" y1="931.5" x2="84.1" y2="931.5" stroke="#555" stroke-width="1"/>
<circle cx="81.9" cy="941.08" r="1.0" fill="#777"/>
<line x1="103.5" y1="949.9" x2="103.5" y2="957.4" stroke="#333" stroke-width="1.3"/>
<rect x="95.9" y="916.15" width="6.6" height="33.75" fill="#383838"/>
<line x1="99.5" y1="907.99" x2="99.5" y2="916.15" stroke="#9a9a9a" stroke-width="1"/>
<line x1="97" y1="907.5" x2="101.4" y2="907.5" stroke="#9a9a9a" stroke-width="1"/>
<circle cx="99.2" cy="924.53" r="1.0" fill="#bbb"/>
<rect x="105.1" y="940.63" width="7" height="9.27" fill="#d4d4d4"/>
<line x1="108.5" y1="930.27" x2="108.5" y2="940.63" stroke="#555" stroke-width="1"/>
<line x1="106.4" y1="930.5" x2="110.8" y2="930.5" stroke="#555" stroke-width="1"/>
<circle cx="108.6" cy="946.59" r="1.0" fill="#777"/>
<line x1="130.5" y1="949.9" x2="130.5" y2="957.4" stroke="#333" stroke-width="1.3"/>
<rect x="122.8" y="892.54" width="6.6" height="57.36" fill="#383838"/>
<line x1="126.5" y1="878.87" x2="126.5" y2="892.54" stroke="#9a9a9a" stroke-width="1"/>
<line x1="123.9" y1="878.5" x2="128.3" y2="878.5" stroke="#9a9a9a" stroke-width="1"/>
<circle cx="126.1" cy="907.99" r="1.0" fill="#bbb"/>
<rect x="132" y="946.59" width="7" height="3.31" fill="#d4d4d4"/>
<line x1="135.5" y1="945.49" x2="135.5" y2="946.59" stroke="#555" stroke-width="1"/>
<line x1="133.3" y1="945.5" x2="137.7" y2="945.5" stroke="#555" stroke-width="1"/>
<circle cx="135.5" cy="947.25" r="1.0" fill="#777"/>
<line x1="157.5" y1="949.9" x2="157.5" y2="957.4" stroke="#333" stroke-width="1.3"/>
<rect x="149.8" y="931.37" width="6.6" height="18.53" fill="#383838"/>
<line x1="153.5" y1="923.43" x2="153.5" y2="931.37" stroke="#9a9a9a" stroke-width="1"/>
<line x1="150.9" y1="923.5" x2="155.3" y2="923.5" stroke="#9a9a9a" stroke-width="1"/>
<circle cx="153.1" cy="938.87" r="1.0" fill="#bbb"/>
<rect x="159" y="947.25" width="7" height="2.65" fill="#d4d4d4"/>
<line x1="162.5" y1="945.49" x2="162.5" y2="947.25" stroke="#555" stroke-width="1"/>
<line x1="160.3" y1="945.5" x2="164.7" y2="945.5" stroke="#555" stroke-width="1"/>
<circle cx="162.5" cy="947.69" r="1.0" fill="#777"/>
<line x1="184.5" y1="949.9" x2="184.5" y2="957.4" stroke="#333" stroke-width="1.3"/>
<rect x="176.9" y="941.08" width="6.6" height="8.82" fill="#383838"/>
<line x1="180.5" y1="938.65" x2="180.5" y2="941.08" stroke="#9a9a9a" stroke-width="1"/>
<line x1="178" y1="938.5" x2="182.4" y2="938.5" stroke="#9a9a9a" stroke-width="1"/>
<circle cx="180.2" cy="942.18" r="1.0" fill="#bbb"/>
<rect x="186.1" y="948.58" width="7" height="1.32" fill="#d4d4d4"/>
<line x1="189.5" y1="948.14" x2="189.5" y2="948.58" stroke="#555" stroke-width="1"/>
<line x1="187.4" y1="948.5" x2="191.8" y2="948.5" stroke="#555" stroke-width="1"/>
<polyline points="71.5,826.5 71.5,815.5 179.5,815.5 179.5,833.8" fill="none" stroke="#333" stroke-width="1.1"/>
<path d="M115.25 806.3L115.25 811.3M113.08 807.55L117.42 810.05M117.42 807.55L113.08 810.05M121.95 806.3L121.95 811.3M119.78 807.55L124.12 810.05M124.12 807.55L119.78 810.05M128.65 806.3L128.65 811.3M126.48 807.55L130.82 810.05M130.82 807.55L126.48 810.05M135.35 806.3L135.35 811.3M133.18 807.55L137.52 810.05M137.52 807.55L133.18 810.05" stroke="#111" stroke-width="1.45" fill="none"/>
<polyline points="71.5,848.4 71.5,839.5 98.5,839.5 98.5,905.3" fill="none" stroke="#333" stroke-width="1.1"/>
<path d="M78.3 829.3L78.3 834.3M76.13 830.55L80.47 833.05M80.47 830.55L76.13 833.05M85 829.3L85 834.3M82.83 830.55L87.17 833.05M87.17 830.55L82.83 833.05M91.7 829.3L91.7 834.3M89.53 830.55L93.87 833.05M93.87 830.55L89.53 833.05" stroke="#111" stroke-width="1.45" fill="none"/>
<polyline points="125.5,857.7 125.5,848.5 179.5,848.5 179.5,936" fill="none" stroke="#333" stroke-width="1.1"/>
<path d="M142.95 837.9L142.95 842.9M140.78 839.15L145.12 841.65M145.12 839.15L140.78 841.65M149.65 837.9L149.65 842.9M147.48 839.15L151.82 841.65M151.82 839.15L147.48 841.65M156.35 837.9L156.35 842.9M154.18 839.15L158.52 841.65M158.52 839.15L154.18 841.65M163.05 837.9L163.05 842.9M160.88 839.15L165.22 841.65M165.22 839.15L160.88 841.65" stroke="#111" stroke-width="1.45" fill="none"/>
<polyline points="125.5,874.7 125.5,868.5 153.5,868.5 153.5,918.5" fill="none" stroke="#333" stroke-width="1.1"/>
<path d="M135.65 859.1L135.65 864.1M133.48 860.35L137.82 862.85M137.82 860.35L133.48 862.85M142.35 859.1L142.35 864.1M140.18 860.35L144.52 862.85M144.52 860.35L140.18 862.85" stroke="#111" stroke-width="1.45" fill="none"/>
<rect x="199.2" y="820.6" width="15.2" height="5" fill="#383838"/>
<rect x="199.2" y="843.4" width="15.2" height="5" fill="#d4d4d4"/>
<text x="227" y="827.6" font-size="12.6">PHB2</text>
<text x="227" y="850.4" font-size="12.6">IgG</text>
<text x="0" y="0" font-size="12.6" text-anchor="middle" transform="translate(30.7 894.8) rotate(-90)">% Input</text>
<text x="80.5" y="969.2" font-size="12.2" text-anchor="end" fill="#222" transform="rotate(-45 80.5 969.2)"><tspan font-style="italic">CANT2</tspan>-NC</text>
<text x="107.2" y="969.2" font-size="12.2" text-anchor="end" fill="#222" transform="rotate(-45 107.2 969.2)"><tspan font-style="italic">CANT2</tspan>-KO</text>
<text x="134.1" y="969.2" font-size="12.2" text-anchor="end" fill="#222" transform="rotate(-45 134.1 969.2)"><tspan font-style="italic">CANT2</tspan>-NC</text>
<text x="161.1" y="969.2" font-size="12.2" text-anchor="end" fill="#222" transform="rotate(-45 161.1 969.2)"><tspan font-style="italic">CANT2</tspan>-KO</text>
<text x="188.2" y="969.2" font-size="12.2" text-anchor="end" fill="#222" transform="rotate(-45 188.2 969.2)">PIG1</text>
<line x1="24.7" y1="1016.5" x2="70.2" y2="1016.5" stroke="#111" stroke-width="1.1"/>
<line x1="75.1" y1="1016.5" x2="121.4" y2="1016.5" stroke="#111" stroke-width="1.1"/>
<text x="45.3" y="1034.8" font-size="13.2" text-anchor="middle">A375</text>
<text x="95.3" y="1034.8" font-size="13.2" text-anchor="middle">A875</text>
<line x1="338.5" y1="772.5" x2="338.5" y2="933.5" stroke="#333" stroke-width="1.3"/>
<line x1="338" y1="932.5" x2="434.9" y2="932.5" stroke="#333" stroke-width="1.3"/>
<line x1="330" y1="932.5" x2="338" y2="932.5" stroke="#333" stroke-width="1.3"/>
<text x="327.6" y="937.5" font-size="12.8" text-anchor="end">0.0</text>
<line x1="330" y1="892.5" x2="338" y2="892.5" stroke="#333" stroke-width="1.3"/>
<text x="327.6" y="897.55" font-size="12.8" text-anchor="end">0.2</text>
<line x1="330" y1="853.5" x2="338" y2="853.5" stroke="#333" stroke-width="1.3"/>
<text x="327.6" y="857.6" font-size="12.8" text-anchor="end">0.4</text>
<line x1="330" y1="813.5" x2="338" y2="813.5" stroke="#333" stroke-width="1.3"/>
<text x="327.6" y="817.65" font-size="12.8" text-anchor="end">0.6</text>
<line x1="330" y1="773.5" x2="338" y2="773.5" stroke="#333" stroke-width="1.3"/>
<text x="327.6" y="777.7" font-size="12.8" text-anchor="end">0.8</text>
<line x1="351.5" y1="932.9" x2="351.5" y2="940.9" stroke="#333" stroke-width="1.3"/>
<rect x="342.4" y="860.59" width="8.4" height="72.31" fill="#8fb0dd"/>
<line x1="346.5" y1="847.01" x2="346.5" y2="872.98" stroke="#dde6f2" stroke-width="1"/>
<line x1="344.1" y1="847.5" x2="349.1" y2="847.5" stroke="#dde6f2" stroke-width="1"/>
<line x1="344.1" y1="872.5" x2="349.1" y2="872.5" stroke="#dde6f2" stroke-width="1"/>
<rect x="355" y="929.3" width="8.4" height="3.6" fill="#0a0a0a"/>
<line x1="359.5" y1="928.9" x2="359.5" y2="929.3" stroke="#333" stroke-width="1"/>
<line x1="356.7" y1="928.5" x2="361.7" y2="928.5" stroke="#333" stroke-width="1"/>
<line x1="385.5" y1="932.9" x2="385.5" y2="940.9" stroke="#333" stroke-width="1.3"/>
<rect x="376.3" y="919.32" width="8.4" height="13.58" fill="#8fb0dd"/>
<line x1="380.5" y1="916.92" x2="380.5" y2="920.52" stroke="#dde6f2" stroke-width="1"/>
<line x1="378" y1="916.5" x2="383" y2="916.5" stroke="#dde6f2" stroke-width="1"/>
<line x1="378" y1="920.5" x2="383" y2="920.5" stroke="#dde6f2" stroke-width="1"/>
<rect x="388.9" y="929.5" width="8.4" height="3.4" fill="#0a0a0a"/>
<line x1="393.5" y1="928.9" x2="393.5" y2="929.5" stroke="#333" stroke-width="1"/>
<line x1="390.6" y1="928.5" x2="395.6" y2="928.5" stroke="#333" stroke-width="1"/>
<line x1="419.5" y1="932.9" x2="419.5" y2="940.9" stroke="#333" stroke-width="1.3"/>
<rect x="410.2" y="880.57" width="8.4" height="52.33" fill="#8fb0dd"/>
<line x1="414.5" y1="878.97" x2="414.5" y2="881.96" stroke="#dde6f2" stroke-width="1"/>
<line x1="411.9" y1="878.5" x2="416.9" y2="878.5" stroke="#dde6f2" stroke-width="1"/>
<line x1="411.9" y1="881.5" x2="416.9" y2="881.5" stroke="#dde6f2" stroke-width="1"/>
<rect x="422.8" y="926.51" width="8.4" height="6.39" fill="#0a0a0a"/>
<line x1="427.5" y1="923.91" x2="427.5" y2="926.51" stroke="#333" stroke-width="1"/>
<line x1="424.5" y1="923.5" x2="429.5" y2="923.5" stroke="#333" stroke-width="1"/>
<polyline points="345.5,791 345.5,774.5 413.5,774.5 413.5,868.3" fill="none" stroke="#333" stroke-width="1.1"/>
<path d="M370.99 760.2L370.99 766.4M368.31 761.75L373.67 764.85M373.67 761.75L368.31 764.85M379.75 760.2L379.75 766.4M377.07 761.75L382.43 764.85M382.43 761.75L377.07 764.85M388.51 760.2L388.51 766.4M385.83 761.75L391.19 764.85M391.19 761.75L385.83 764.85" stroke="#111" stroke-width="1.45" fill="none"/>
<polyline points="345.5,835.3 345.5,821.5 379.5,821.5 379.5,903.6" fill="none" stroke="#333" stroke-width="1.1"/>
<path d="M349.46 807.3L349.46 813.5M346.78 808.85L352.14 811.95M352.14 808.85L346.78 811.95M358.22 807.3L358.22 813.5M355.54 808.85L360.9 811.95M360.9 808.85L355.54 811.95M366.98 807.3L366.98 813.5M364.3 808.85L369.66 811.95M369.66 808.85L364.3 811.95M375.74 807.3L375.74 813.5M373.06 808.85L378.42 811.95M378.42 808.85L373.06 811.95" stroke="#111" stroke-width="1.45" fill="none"/>
<rect x="422" y="796.5" width="17" height="5" fill="#8fb0dd"/>
<rect x="422" y="821" width="17" height="5" fill="#0a0a0a"/>
<text x="446" y="803.4" font-size="12.8">PHB2</text>
<text x="446" y="828.2" font-size="12.8">IgG</text>
<text x="0" y="0" font-size="14.6" text-anchor="middle" transform="translate(298.8 853.3) rotate(-90)">% Input</text>
<text x="356.4" y="953.7" font-size="13.3" text-anchor="end" fill="#222" transform="rotate(-45 356.4 953.7)">NC-NC</text>
<text x="390.3" y="953.7" font-size="13.3" text-anchor="end" fill="#222" transform="rotate(-45 390.3 953.7)"><tspan font-style="italic">CANT2</tspan>-KO-NC</text>
<text x="424.2" y="953.7" font-size="13.3" text-anchor="end" fill="#222" transform="rotate(-45 424.2 953.7)"><tspan font-style="italic">CANT2</tspan>-KO-OE</text>
<line x1="315.5" y1="1021.5" x2="381.8" y2="1021.5" stroke="#111" stroke-width="1.1"/>
<text x="349.15" y="1036.9" font-size="12.8" text-anchor="middle">A375</text>
<text x="284.33" y="771.15" font-size="21.37" font-weight="bold" fill="#000" transform="translate(284.33 771.15) scale(0.849 1) translate(-284.33 -771.15)" stroke="#000" stroke-width="0.6" stroke-linejoin="round">K</text>
<line x1="544.5" y1="774.2" x2="544.5" y2="936.1" stroke="#333" stroke-width="1.3"/>
<line x1="544" y1="935.5" x2="640.9" y2="935.5" stroke="#333" stroke-width="1.3"/>
<line x1="536" y1="935.5" x2="544" y2="935.5" stroke="#333" stroke-width="1.3"/>
<text x="533.6" y="940.1" font-size="12.8" text-anchor="end">0.0</text>
<line x1="536" y1="895.5" x2="544" y2="895.5" stroke="#333" stroke-width="1.3"/>
<text x="533.6" y="899.93" font-size="12.8" text-anchor="end">0.2</text>
<line x1="536" y1="855.5" x2="544" y2="855.5" stroke="#333" stroke-width="1.3"/>
<text x="533.6" y="859.75" font-size="12.8" text-anchor="end">0.4</text>
<line x1="536" y1="814.5" x2="544" y2="814.5" stroke="#333" stroke-width="1.3"/>
<text x="533.6" y="819.57" font-size="12.8" text-anchor="end">0.6</text>
<line x1="536" y1="774.5" x2="544" y2="774.5" stroke="#333" stroke-width="1.3"/>
<text x="533.6" y="779.4" font-size="12.8" text-anchor="end">0.8</text>
<line x1="557.5" y1="935.5" x2="557.5" y2="943.5" stroke="#333" stroke-width="1.3"/>
<rect x="548.4" y="881.67" width="8.4" height="53.83" fill="#8fb0dd"/>
<line x1="552.5" y1="869.21" x2="552.5" y2="889.3" stroke="#dde6f2" stroke-width="1"/>
<line x1="550.1" y1="869.5" x2="555.1" y2="869.5" stroke="#dde6f2" stroke-width="1"/>
<line x1="550.1" y1="889.5" x2="555.1" y2="889.5" stroke="#dde6f2" stroke-width="1"/>
<rect x="561" y="931.48" width="8.4" height="4.02" fill="#0a0a0a"/>
<line x1="565.5" y1="929.47" x2="565.5" y2="931.48" stroke="#333" stroke-width="1"/>
<line x1="562.7" y1="929.5" x2="567.7" y2="929.5" stroke="#333" stroke-width="1"/>
<line x1="591.5" y1="935.5" x2="591.5" y2="943.5" stroke="#333" stroke-width="1.3"/>
<rect x="582.3" y="926.26" width="8.4" height="9.24" fill="#8fb0dd"/>
<line x1="586.5" y1="924.45" x2="586.5" y2="927.47" stroke="#dde6f2" stroke-width="1"/>
<line x1="584" y1="924.5" x2="589" y2="924.5" stroke="#dde6f2" stroke-width="1"/>
<line x1="584" y1="927.5" x2="589" y2="927.5" stroke="#dde6f2" stroke-width="1"/>
<rect x="594.9" y="932.49" width="8.4" height="3.01" fill="#0a0a0a"/>
<line x1="599.5" y1="931.88" x2="599.5" y2="932.49" stroke="#333" stroke-width="1"/>
<line x1="596.6" y1="931.5" x2="601.6" y2="931.5" stroke="#333" stroke-width="1"/>
<line x1="625.5" y1="935.5" x2="625.5" y2="943.5" stroke="#333" stroke-width="1.3"/>
<rect x="616.2" y="895.33" width="8.4" height="40.18" fill="#8fb0dd"/>
<line x1="620.5" y1="889.3" x2="620.5" y2="899.34" stroke="#dde6f2" stroke-width="1"/>
<line x1="617.9" y1="889.5" x2="622.9" y2="889.5" stroke="#dde6f2" stroke-width="1"/>
<line x1="617.9" y1="899.5" x2="622.9" y2="899.5" stroke="#dde6f2" stroke-width="1"/>
<rect x="628.8" y="927.47" width="8.4" height="8.04" fill="#0a0a0a"/>
<line x1="633.5" y1="924.45" x2="633.5" y2="927.47" stroke="#333" stroke-width="1"/>
<line x1="630.5" y1="924.5" x2="635.5" y2="924.5" stroke="#333" stroke-width="1"/>
<polyline points="551.5,807.7 551.5,776.5 619.5,776.5 619.5,878.4" fill="none" stroke="#333" stroke-width="1.1"/>
<path d="M585.4 762.6L585.4 768.8M582.72 764.15L588.08 767.25M588.08 764.15L582.72 767.25" stroke="#111" stroke-width="1.45" fill="none"/>
<polyline points="551.5,838 551.5,827.5 585.5,827.5 585.5,922" fill="none" stroke="#333" stroke-width="1.1"/>
<path d="M555.31 814L555.31 820.2M552.63 815.55L557.99 818.65M557.99 815.55L552.63 818.65M564.07 814L564.07 820.2M561.39 815.55L566.75 818.65M566.75 815.55L561.39 818.65M572.83 814L572.83 820.2M570.15 815.55L575.51 818.65M575.51 815.55L570.15 818.65M581.59 814L581.59 820.2M578.91 815.55L584.27 818.65M584.27 815.55L578.91 818.65" stroke="#111" stroke-width="1.45" fill="none"/>
<rect x="627.5" y="798.6" width="17" height="5" fill="#8fb0dd"/>
<rect x="627.5" y="823.1" width="17" height="5" fill="#0a0a0a"/>
<text x="651.5" y="805.5" font-size="12.8">PHB2</text>
<text x="651.5" y="830.3" font-size="12.8">IgG</text>
<text x="0" y="0" font-size="14.6" text-anchor="middle" transform="translate(504.8 855.9) rotate(-90)">% Input</text>
<text x="562.4" y="956.3" font-size="13.3" text-anchor="end" fill="#222" transform="rotate(-45 562.4 956.3)">NC-NC</text>
<text x="596.3" y="956.3" font-size="13.3" text-anchor="end" fill="#222" transform="rotate(-45 596.3 956.3)"><tspan font-style="italic">CANT2</tspan>-KO-NC</text>
<text x="630.2" y="956.3" font-size="13.3" text-anchor="end" fill="#222" transform="rotate(-45 630.2 956.3)"><tspan font-style="italic">CANT2</tspan>-KO-OE</text>
<line x1="520.5" y1="1023.5" x2="587.8" y2="1023.5" stroke="#111" stroke-width="1.1"/>
<text x="554.65" y="1039.3" font-size="12.8" text-anchor="middle">A875</text>
<text x="491.72" y="771.15" font-size="21.08" font-weight="bold" fill="#000" transform="translate(491.72 771.15) scale(0.731 1) translate(-491.72 -771.15)" stroke="#000" stroke-width="0.6" stroke-linejoin="round">L</text>
</svg>
</body></html>
